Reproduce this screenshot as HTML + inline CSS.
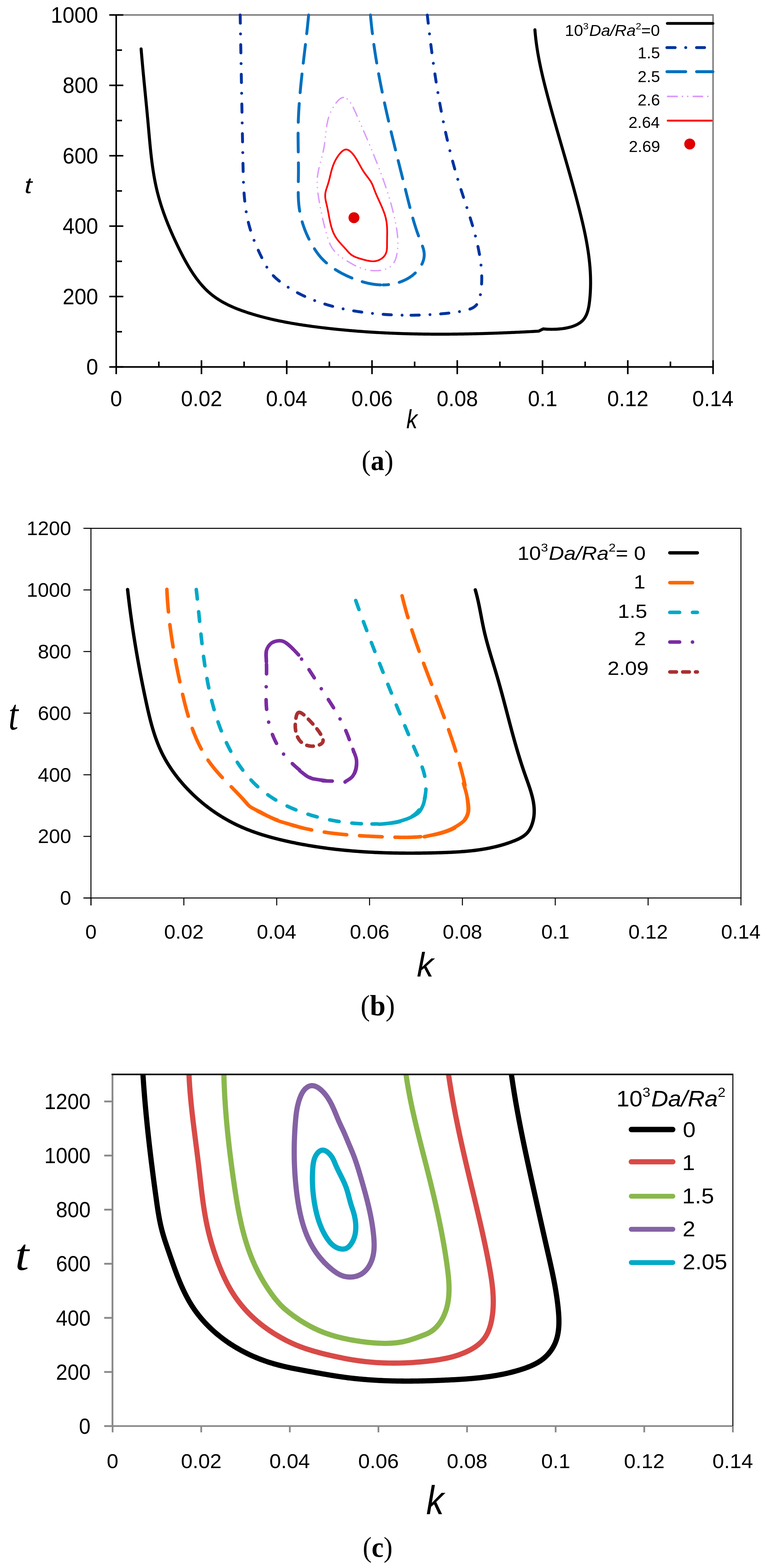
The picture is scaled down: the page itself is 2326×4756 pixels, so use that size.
<!DOCTYPE html><html><head><meta charset="utf-8"><title>Figure</title>
<style>html,body{margin:0;padding:0;background:#fff}svg{display:block}</style></head><body>
<svg width="2326" height="4756" viewBox="0 0 2326 4756">
<rect width="2326" height="4756" fill="#fff"/>
<line x1="374" y1="45.3" x2="2162.4" y2="45.3" stroke="#808080" stroke-width="4.7" stroke-linecap="butt"/>
<line x1="2162.4" y1="43" x2="2162.4" y2="1113" stroke="#808080" stroke-width="4.7" stroke-linecap="butt"/>
<line x1="352.4" y1="45.3" x2="352.4" y2="1113" stroke="#000" stroke-width="4.8" stroke-linecap="butt"/>
<line x1="352.4" y1="1113" x2="2164.7" y2="1113" stroke="#000" stroke-width="4.8" stroke-linecap="butt"/>
<line x1="331.4" y1="1113" x2="374" y2="1113" stroke="#000" stroke-width="4.8" stroke-linecap="butt"/>
<line x1="331.4" y1="899.46" x2="374" y2="899.46" stroke="#000" stroke-width="4.8" stroke-linecap="butt"/>
<line x1="331.4" y1="685.92" x2="374" y2="685.92" stroke="#000" stroke-width="4.8" stroke-linecap="butt"/>
<line x1="331.4" y1="472.38" x2="374" y2="472.38" stroke="#000" stroke-width="4.8" stroke-linecap="butt"/>
<line x1="331.4" y1="258.84" x2="374" y2="258.84" stroke="#000" stroke-width="4.8" stroke-linecap="butt"/>
<line x1="331.4" y1="45.3" x2="374" y2="45.3" stroke="#000" stroke-width="4.8" stroke-linecap="butt"/>
<line x1="352.4" y1="1006.23" x2="370" y2="1006.23" stroke="#000" stroke-width="4.8" stroke-linecap="butt"/>
<line x1="352.4" y1="792.69" x2="370" y2="792.69" stroke="#000" stroke-width="4.8" stroke-linecap="butt"/>
<line x1="352.4" y1="579.15" x2="370" y2="579.15" stroke="#000" stroke-width="4.8" stroke-linecap="butt"/>
<line x1="352.4" y1="365.61" x2="370" y2="365.61" stroke="#000" stroke-width="4.8" stroke-linecap="butt"/>
<line x1="352.4" y1="152.07" x2="370" y2="152.07" stroke="#000" stroke-width="4.8" stroke-linecap="butt"/>
<line x1="352.4" y1="1092.6" x2="352.4" y2="1134.8" stroke="#000" stroke-width="4.8" stroke-linecap="butt"/>
<line x1="610.97" y1="1092.6" x2="610.97" y2="1134.8" stroke="#000" stroke-width="4.8" stroke-linecap="butt"/>
<line x1="869.54" y1="1092.6" x2="869.54" y2="1134.8" stroke="#000" stroke-width="4.8" stroke-linecap="butt"/>
<line x1="1128.11" y1="1092.6" x2="1128.11" y2="1134.8" stroke="#000" stroke-width="4.8" stroke-linecap="butt"/>
<line x1="1386.68" y1="1092.6" x2="1386.68" y2="1134.8" stroke="#000" stroke-width="4.8" stroke-linecap="butt"/>
<line x1="1645.25" y1="1092.6" x2="1645.25" y2="1134.8" stroke="#000" stroke-width="4.8" stroke-linecap="butt"/>
<line x1="1903.82" y1="1092.6" x2="1903.82" y2="1134.8" stroke="#000" stroke-width="4.8" stroke-linecap="butt"/>
<line x1="2162.39" y1="1092.6" x2="2162.39" y2="1134.8" stroke="#000" stroke-width="4.8" stroke-linecap="butt"/>
<line x1="481.68" y1="1096.7" x2="481.68" y2="1113" stroke="#000" stroke-width="4.8" stroke-linecap="butt"/>
<line x1="740.25" y1="1096.7" x2="740.25" y2="1113" stroke="#000" stroke-width="4.8" stroke-linecap="butt"/>
<line x1="998.82" y1="1096.7" x2="998.82" y2="1113" stroke="#000" stroke-width="4.8" stroke-linecap="butt"/>
<line x1="1257.39" y1="1096.7" x2="1257.39" y2="1113" stroke="#000" stroke-width="4.8" stroke-linecap="butt"/>
<line x1="1515.97" y1="1096.7" x2="1515.97" y2="1113" stroke="#000" stroke-width="4.8" stroke-linecap="butt"/>
<line x1="1774.53" y1="1096.7" x2="1774.53" y2="1113" stroke="#000" stroke-width="4.8" stroke-linecap="butt"/>
<line x1="2033.11" y1="1096.7" x2="2033.11" y2="1113" stroke="#000" stroke-width="4.8" stroke-linecap="butt"/>
<path d="M427.92,148.34 428.26,152.36 428.59,156.38 428.93,160.4 429.28,164.41 429.62,168.42 429.97,172.42 430.32,176.42 430.68,180.43 431.03,184.42 431.39,188.42 431.76,192.41 432.12,196.41 432.49,200.4 432.85,204.38 433.22,208.37 433.6,212.35 433.97,216.34 434.34,220.32 434.72,224.3 435.1,228.27 435.48,232.25 435.86,236.23 436.24,240.2 436.63,244.17 437.01,248.15 437.4,252.12 437.78,256.09 438.17,260.06 438.56,264.03 438.94,268 439.33,271.97 439.72,275.94 440.11,279.9 440.5,283.87 440.89,287.84 441.27,291.81 441.66,295.78 442.05,299.75 442.44,303.71 442.83,307.68 443.21,311.65 443.6,315.63 443.98,319.6 444.37,323.57 444.75,327.54 445.13,331.52 445.51,335.49 445.89,339.47 446.27,343.45 446.65,347.43 447.02,351.41 447.39,355.39 447.77,359.37 448.14,363.36 448.5,367.34 448.87,371.33 449.23,375.33 449.59,379.32 449.95,383.31 450.31,387.31 450.66,391.31 451.02,395.31 451.37,399.32 451.73,403.32 452.08,407.32 452.44,411.33 452.8,415.34 453.16,419.34 453.52,423.35 453.89,427.36 454.27,431.37 454.64,435.37 455.03,439.38 455.41,443.39 455.81,447.39 456.21,451.4 456.62,455.4 457.04,459.4 457.46,463.4 457.9,467.4 458.34,471.4 458.8,475.39 459.27,479.38 459.74,483.37 460.23,487.36 460.74,491.34 461.25,495.32 461.78,499.3 462.32,503.27 462.88,507.24 463.46,511.21 464.04,515.17 464.65,519.13 465.27,523.08 465.91,527.03 466.57,530.98 467.25,534.91 467.94,538.85 468.66,542.78 469.4,546.7 470.15,550.62 470.93,554.53 471.73,558.43 472.56,562.33 473.4,566.22 474.27,570.11 475.17,573.99 476.09,577.86 477.03,581.72 478,585.58 478.99,589.43 480.01,593.27 481.05,597.11 482.12,600.94 483.2,604.76 484.31,608.58 485.45,612.39 486.6,616.19 487.78,619.99 488.98,623.78 490.2,627.56 491.45,631.34 492.71,635.11 493.99,638.88 495.3,642.64 496.62,646.4 497.97,650.15 499.33,653.89 500.71,657.63 502.11,661.37 503.53,665.09 504.97,668.82 506.43,672.54 507.9,676.25 509.39,679.96 510.9,683.66 512.43,687.36 513.97,691.06 515.53,694.75 517.1,698.43 518.69,702.12 520.29,705.79 521.91,709.47 523.55,713.14 525.2,716.8 526.86,720.47 528.54,724.12 530.23,727.78 531.93,731.43 533.65,735.08 535.38,738.72 537.12,742.36 538.87,746 540.64,749.64 542.41,753.27 544.2,756.9 546.01,760.52 547.82,764.14 549.65,767.75 551.5,771.35 553.36,774.95 555.23,778.53 557.13,782.11 559.04,785.67 560.98,789.23 562.93,792.77 564.9,796.29 566.9,799.8 568.91,803.3 570.95,806.78 573.01,810.24 575.1,813.68 577.21,817.1 579.35,820.51 581.51,823.89 583.71,827.25 585.93,830.58 588.17,833.9 590.45,837.18 592.76,840.45 595.1,843.68 597.48,846.88 599.88,850.05 602.33,853.19 604.8,856.29 607.32,859.36 609.87,862.39 612.46,865.38 615.09,868.32 617.76,871.23 620.47,874.09 623.22,876.9 626.02,879.66 628.86,882.38 631.74,885.04 634.67,887.65 637.65,890.21 640.68,892.71 643.74,895.16 646.86,897.55 650.01,899.9 653.21,902.19 656.45,904.43 659.72,906.62 663.03,908.77 666.38,910.87 669.77,912.92 673.19,914.92 676.64,916.88 680.12,918.79 683.64,920.66 687.18,922.49 690.75,924.27 694.35,926.02 697.97,927.72 701.62,929.38 705.29,931.01 708.98,932.6 712.69,934.15 716.42,935.67 720.17,937.16 723.93,938.62 727.7,940.04 731.49,941.44 735.3,942.81 739.11,944.15 742.93,945.46 746.76,946.75 750.59,948.02 754.43,949.27 758.28,950.49 762.12,951.7 765.97,952.88 769.83,954.04 773.69,955.19 777.55,956.31 781.41,957.42 785.28,958.5 789.16,959.57 793.03,960.62 796.91,961.65 800.79,962.66 804.68,963.65 808.56,964.63 812.45,965.59 816.35,966.53 820.24,967.46 824.14,968.37 828.05,969.26 831.95,970.14 835.86,971 839.77,971.85 843.68,972.68 847.6,973.5 851.52,974.3 855.44,975.09 859.36,975.86 863.28,976.62 867.21,977.37 871.14,978.11 875.07,978.83 879,979.54 882.94,980.23 886.88,980.92 890.82,981.59 894.76,982.25 898.7,982.91 902.65,983.54 906.59,984.17 910.54,984.79 914.49,985.4 918.44,986 922.39,986.59 926.35,987.17 930.3,987.74 934.26,988.3 938.22,988.85 942.18,989.4 946.14,989.94 950.1,990.47 954.06,990.99 958.02,991.5 961.99,992.01 965.95,992.51 969.92,993.01 973.89,993.5 977.85,993.98 981.82,994.45 985.79,994.92 989.76,995.38 993.73,995.84 997.71,996.28 1001.68,996.73 1005.65,997.16 1009.63,997.59 1013.6,998.01 1017.58,998.43 1021.56,998.84 1025.53,999.24 1029.51,999.64 1033.49,1000.03 1037.47,1000.41 1041.45,1000.79 1045.43,1001.16 1049.41,1001.53 1053.4,1001.89 1057.38,1002.24 1061.36,1002.59 1065.35,1002.93 1069.33,1003.27 1073.32,1003.6 1077.31,1003.92 1081.29,1004.24 1085.28,1004.55 1089.27,1004.86 1093.26,1005.16 1097.25,1005.45 1101.24,1005.74 1105.23,1006.02 1109.22,1006.3 1113.21,1006.57 1117.2,1006.84 1121.2,1007.1 1125.19,1007.35 1129.18,1007.6 1133.18,1007.85 1137.17,1008.09 1141.17,1008.32 1145.16,1008.55 1149.16,1008.77 1153.16,1008.98 1157.15,1009.19 1161.15,1009.4 1165.15,1009.6 1169.15,1009.8 1173.15,1009.99 1177.14,1010.17 1181.14,1010.35 1185.14,1010.52 1189.14,1010.69 1193.14,1010.86 1197.15,1011.02 1201.15,1011.17 1205.15,1011.32 1209.15,1011.46 1213.15,1011.6 1217.16,1011.74 1221.16,1011.87 1225.16,1011.99 1229.16,1012.11 1233.17,1012.22 1237.17,1012.33 1241.18,1012.44 1245.18,1012.54 1249.19,1012.64 1253.19,1012.73 1257.19,1012.81 1261.2,1012.9 1265.21,1012.97 1269.21,1013.05 1273.22,1013.11 1277.22,1013.18 1281.23,1013.24 1285.23,1013.29 1289.24,1013.34 1293.25,1013.39 1297.25,1013.43 1301.26,1013.47 1305.27,1013.5 1309.27,1013.53 1313.28,1013.56 1317.29,1013.58 1321.29,1013.59 1325.3,1013.61 1329.31,1013.61 1333.32,1013.62 1337.32,1013.62 1341.33,1013.62 1345.34,1013.61 1349.34,1013.6 1353.35,1013.58 1357.36,1013.56 1361.36,1013.54 1365.37,1013.51 1369.38,1013.48 1373.39,1013.45 1377.39,1013.41 1381.4,1013.37 1385.41,1013.32 1389.41,1013.27 1393.42,1013.22 1397.42,1013.16 1401.43,1013.1 1405.44,1013.04 1409.44,1012.97 1413.45,1012.9 1417.45,1012.82 1421.46,1012.75 1425.46,1012.66 1429.47,1012.58 1433.47,1012.49 1437.48,1012.4 1441.48,1012.31 1445.48,1012.21 1449.49,1012.11 1453.49,1012.01 1457.49,1011.9 1461.5,1011.79 1465.5,1011.67 1469.5,1011.56 1473.5,1011.44 1477.5,1011.32 1481.5,1011.19 1485.51,1011.06 1489.51,1010.93 1493.51,1010.8 1497.51,1010.66 1501.51,1010.52 1505.5,1010.38 1509.5,1010.23 1513.5,1010.08 1517.5,1009.93 1521.5,1009.78 1525.49,1009.62 1529.49,1009.47 1533.49,1009.3 1537.48,1009.14 1541.48,1008.97 1545.47,1008.8 1549.46,1008.63 1553.46,1008.46 1557.45,1008.28 1561.44,1008.1 1565.44,1007.92 1569.43,1007.74 1573.42,1007.55 1577.41,1007.37 1581.4,1007.18 1585.39,1006.98 1589.38,1006.79 1593.36,1006.59 1597.35,1006.39 1601.34,1006.19 1605.32,1005.99 1609.31,1005.78 1613.29,1005.58 1617.28,1005.37 1621.26,1005.16 1625.25,1004.95 1629.23,1004.73 1633.21,1004.51 L1647.15,997.64 1650.33,997.91 1653.67,998.15 1657.17,998.36 1660.8,998.53 1664.57,998.67 1668.44,998.75 1672.43,998.79 1676.5,998.77 1680.65,998.69 1684.87,998.55 1689.14,998.34 1693.45,998.05 1697.79,997.69 1702.14,997.24 1706.5,996.71 1710.85,996.08 1715.18,995.36 1719.47,994.54 1723.72,993.61 1727.91,992.57 1732.03,991.42 1736.06,990.14 1740,988.75 1743.82,987.22 1747.53,985.56 1751.1,983.76 1754.53,981.82 1757.8,979.74 1760.89,977.5 1763.81,975.1 1766.52,972.55 1769.03,969.82 1771.33,966.94 1773.44,963.91 1775.35,960.73 1777.09,957.42 1778.67,954 1780.09,950.46 1781.36,946.82 1782.51,943.09 1783.53,939.28 1784.43,935.41 1785.24,931.47 1785.96,927.49 1786.59,923.46 1787.16,919.41 1787.67,915.35 1788.13,911.27 1788.56,907.2 1788.95,903.13 1789.3,899.06 1789.62,895 1789.9,890.94 1790.15,886.88 1790.37,882.83 1790.56,878.78 1790.71,874.74 1790.83,870.7 1790.92,866.66 1790.98,862.63 1791.01,858.6 1791,854.58 1790.97,850.56 1790.91,846.54 1790.82,842.52 1790.7,838.51 1790.56,834.5 1790.38,830.49 1790.18,826.49 1789.96,822.49 1789.7,818.5 1789.42,814.51 1789.12,810.52 1788.79,806.53 1788.44,802.55 1788.06,798.57 1787.66,794.59 1787.23,790.62 1786.79,786.64 1786.32,782.68 1785.83,778.71 1785.32,774.75 1784.78,770.79 1784.23,766.83 1783.66,762.88 1783.06,758.93 1782.45,754.98 1781.82,751.03 1781.17,747.09 1780.51,743.15 1779.82,739.21 1779.12,735.27 1778.4,731.34 1777.67,727.41 1776.92,723.48 1776.16,719.55 1775.38,715.63 1774.58,711.7 1773.78,707.78 1772.96,703.87 1772.12,699.95 1771.28,696.04 1770.42,692.13 1769.55,688.22 1768.67,684.31 1767.78,680.41 1766.88,676.5 1765.96,672.6 1765.04,668.7 1764.11,664.81 1763.17,660.91 1762.23,657.02 1761.27,653.13 1760.31,649.24 1759.34,645.35 1758.37,641.46 1757.39,637.58 1756.4,633.69 1755.41,629.81 1754.41,625.93 1753.41,622.05 1752.4,618.17 1751.39,614.3 1750.38,610.42 1749.36,606.55 1748.33,602.68 1747.3,598.81 1746.27,594.94 1745.23,591.07 1744.19,587.2 1743.15,583.34 1742.1,579.47 1741.04,575.61 1739.99,571.75 1738.93,567.89 1737.86,564.03 1736.8,560.17 1735.73,556.31 1734.66,552.45 1733.58,548.6 1732.5,544.74 1731.42,540.89 1730.34,537.03 1729.25,533.18 1728.16,529.33 1727.07,525.48 1725.98,521.63 1724.88,517.78 1723.79,513.93 1722.69,510.08 1721.59,506.23 1720.48,502.38 1719.38,498.53 1718.27,494.69 1717.17,490.84 1716.06,486.99 1714.95,483.15 1713.84,479.3 1712.73,475.46 1711.62,471.61 1710.51,467.77 1709.39,463.92 1708.28,460.08 1707.17,456.24 1706.05,452.39 1704.94,448.55 1703.82,444.7 1702.71,440.86 1701.6,437.02 1700.48,433.17 1699.37,429.33 1698.26,425.49 1697.14,421.64 1696.03,417.8 1694.92,413.95 1693.81,410.11 1692.7,406.26 1691.6,402.42 1690.49,398.57 1689.38,394.73 1688.28,390.88 1687.18,387.03 1686.08,383.19 1684.98,379.34 1683.88,375.49 1682.79,371.64 1681.7,367.79 1680.61,363.94 1679.52,360.09 1678.43,356.24 1677.35,352.39 1676.27,348.54 1675.19,344.68 1674.12,340.83 1673.05,336.97 1671.98,333.12 1670.91,329.26 1669.85,325.4 1668.79,321.54 1667.74,317.68 1666.69,313.82 1665.64,309.96 1664.6,306.1 1663.56,302.23 1662.52,298.37 1661.49,294.5 1660.46,290.64 1659.44,286.77 1658.42,282.9 1657.41,279.03 1656.4,275.15 1655.39,271.28 1654.4,267.4 1653.41,263.53 1652.43,259.65 1651.45,255.77 1650.48,251.88 1649.52,248 1648.57,244.11 1647.63,240.22 1646.69,236.33 1645.77,232.44 1644.86,228.55 1643.95,224.65 1643.06,220.75 1642.18,216.85 1641.31,212.94 1640.45,209.04 1639.61,205.13 1638.77,201.22 1637.95,197.3 1637.15,193.39 1636.36,189.47 1635.58,185.54 1634.81,181.62 1634.07,177.69 1633.33,173.75 1632.62,169.82 1631.92,165.88 1631.23,161.94 1630.56,157.99 1629.91,154.05 1629.28,150.09 1628.67,146.14 1628.07,142.18 1627.5,138.22 1626.94,134.25 1626.4,130.28 1625.89,126.3 1625.39,122.33 1624.91,118.34 1624.46,114.36 1624.03,110.37 1623.62,106.37 1623.23,102.37 1622.86,98.37 1622.52,94.36 1622.2,90.35" fill="none" stroke="#000" stroke-width="9.2" stroke-linecap="round" stroke-linejoin="round"/>
<path d="M728.32,45.37 728.39,49.38 728.47,53.4 728.55,57.41 728.63,61.43 728.7,65.44 728.78,69.45 728.86,73.47 728.94,77.48 729.01,81.49 729.09,85.51 729.17,89.52 729.24,93.53 729.32,97.54 729.4,101.56 729.47,105.57 729.55,109.58 729.62,113.59 729.7,117.6 729.78,121.61 729.85,125.62 729.93,129.63 730,133.64 730.08,137.65 730.15,141.66 730.23,145.67 730.3,149.67 730.38,153.68 730.45,157.69 730.53,161.7 730.6,165.71 730.68,169.71 730.75,173.72 730.83,177.73 730.9,181.74 730.98,185.74 731.05,189.75 731.13,193.76 731.2,197.77 731.28,201.77 731.35,205.78 731.43,209.79 731.5,213.79 731.58,217.8 731.65,221.81 731.72,225.81 731.8,229.82 731.87,233.82 731.95,237.83 732.02,241.84 732.1,245.84 732.17,249.85 732.24,253.85 732.32,257.86 732.39,261.87 732.47,265.87 732.54,269.88 732.62,273.89 732.69,277.89 732.77,281.9 732.84,285.9 732.91,289.91 732.99,293.92 733.06,297.92 733.14,301.93 733.21,305.94 733.29,309.94 733.36,313.95 733.44,317.96 733.51,321.96 733.59,325.97 733.66,329.98 733.74,333.99 733.81,337.99 733.89,342 733.96,346.01 734.04,350.02 734.11,354.02 734.19,358.03 734.26,362.04 734.34,366.05 734.41,370.06 734.49,374.07 734.57,378.08 734.64,382.09 734.72,386.1 734.79,390.11 734.87,394.12 734.95,398.13 735.02,402.14 735.1,406.15 735.18,410.16 735.25,414.17 735.33,418.18 735.41,422.19 735.49,426.21 735.56,430.22 735.64,434.23 735.72,438.24 735.8,442.26 735.87,446.27 735.95,450.29 736.03,454.3 736.11,458.31 736.19,462.33 736.26,466.34 736.34,470.36 736.42,474.38 736.5,478.39 736.58,482.41 736.66,486.43 736.74,490.45 736.82,494.46 736.9,498.48 736.98,502.5 737.06,506.52 737.14,510.54 737.23,514.56 737.32,518.58 737.41,522.6 737.51,526.62 737.61,530.63 737.72,534.65 737.84,538.67 737.97,542.68 738.11,546.7 738.25,550.71 738.41,554.72 738.58,558.73 738.77,562.74 738.97,566.74 739.18,570.74 739.41,574.74 739.66,578.74 739.92,582.74 740.2,586.73 740.5,590.72 740.82,594.7 741.17,598.69 741.53,602.66 741.92,606.64 742.33,610.61 742.77,614.58 743.23,618.54 743.72,622.5 744.24,626.46 744.78,630.41 745.36,634.35 745.96,638.29 746.6,642.22 747.26,646.15 747.96,650.08 748.7,654 749.46,657.91 750.27,661.82 751.11,665.72 751.98,669.61 752.9,673.5 753.85,677.38 754.85,681.25 755.88,685.12 756.96,688.98 758.07,692.84 759.23,696.68 760.42,700.52 761.66,704.35 762.93,708.17 764.23,711.98 765.57,715.78 766.94,719.58 768.34,723.36 769.78,727.14 771.25,730.9 772.74,734.65 774.26,738.4 775.81,742.13 777.39,745.85 778.99,749.55 780.62,753.25 782.27,756.93 783.94,760.61 785.63,764.26 787.34,767.91 789.07,771.54 790.82,775.16 792.59,778.76 794.37,782.35 796.17,785.93 797.98,789.49 799.8,793.03 801.63,796.56 803.49,800.07 805.37,803.56 807.29,807.01 809.27,810.42 811.31,813.79 813.42,817.1 815.63,820.36 817.93,823.55 820.34,826.67 822.85,829.72 825.47,832.7 828.18,835.61 830.99,838.45 833.87,841.24 836.84,843.96 839.87,846.63 842.96,849.24 846.12,851.79 849.32,854.3 852.57,856.76 855.86,859.17 859.18,861.54 862.52,863.87 865.89,866.15 869.27,868.4 872.67,870.62 876.09,872.79 879.52,874.93 882.97,877.03 886.43,879.09 889.91,881.12 893.41,883.12 896.92,885.07 900.45,887 903.99,888.88 907.55,890.74 911.12,892.56 914.71,894.34 918.31,896.09 921.92,897.81 925.54,899.5 929.18,901.15 932.84,902.77 936.5,904.36 940.18,905.92 943.87,907.45 947.57,908.95 951.28,910.41 955.01,911.85 958.74,913.25 962.49,914.63 966.24,915.98 970.01,917.3 973.79,918.59 977.58,919.85 981.37,921.08 985.18,922.29 989,923.47 992.82,924.62 996.65,925.75 1000.5,926.85 1004.34,927.93 1008.2,928.97 1012.07,930 1015.94,931 1019.82,931.97 1023.71,932.92 1027.6,933.85 1031.5,934.75 1035.41,935.63 1039.32,936.49 1043.24,937.33 1047.16,938.14 1051.09,938.93 1055.02,939.7 1058.96,940.45 1062.91,941.17 1066.85,941.88 1070.8,942.57 1074.76,943.23 1078.72,943.88 1082.68,944.51 1086.64,945.12 1090.61,945.71 1094.58,946.28 1098.55,946.83 1102.53,947.37 1106.5,947.89 1110.48,948.39 1114.46,948.88 1118.44,949.35 1122.42,949.8 1126.4,950.24 1130.38,950.66 1134.36,951.07 1138.35,951.46 1142.33,951.83 1146.32,952.19 1150.31,952.53 1154.3,952.86 1158.29,953.17 1162.28,953.46 1166.27,953.74 1170.26,954.01 1174.25,954.25 1178.25,954.49 1182.24,954.71 1186.24,954.91 1190.23,955.09 1194.23,955.27 1198.23,955.42 1202.23,955.56 1206.23,955.69 1210.23,955.8 1214.23,955.9 1218.23,955.98 1222.24,956.05 1226.24,956.1 1230.25,956.14 1234.25,956.16 1238.26,956.17" fill="none" stroke="#0033A0" stroke-width="8.8" stroke-linecap="round" stroke-linejoin="round" stroke-dasharray="25 32.5 0.01 32.5"/><path d="M1295.87,45.63 1296.32,49.59 1296.77,53.56 1297.21,57.52 1297.67,61.49 1298.12,65.46 1298.58,69.42 1299.03,73.39 1299.5,77.36 1299.96,81.33 1300.43,85.3 1300.9,89.27 1301.37,93.24 1301.84,97.21 1302.32,101.18 1302.8,105.15 1303.29,109.12 1303.77,113.09 1304.26,117.06 1304.76,121.03 1305.26,125 1305.76,128.98 1306.26,132.95 1306.77,136.92 1307.28,140.89 1307.79,144.86 1308.31,148.84 1308.83,152.81 1309.35,156.78 1309.88,160.75 1310.42,164.72 1310.95,168.7 1311.49,172.67 1312.04,176.64 1312.58,180.61 1313.14,184.58 1313.69,188.55 1314.25,192.52 1314.82,196.49 1315.39,200.46 1315.96,204.43 1316.54,208.4 1317.12,212.37 1317.71,216.34 1318.3,220.31 1318.9,224.27 1319.5,228.24 1320.1,232.21 1320.71,236.17 1321.33,240.14 1321.95,244.1 1322.57,248.07 1323.2,252.03 1323.84,255.99 1324.48,259.95 1325.12,263.91 1325.78,267.87 1326.43,271.83 1327.09,275.79 1327.76,279.75 1328.43,283.7 1329.11,287.66 1329.79,291.61 1330.48,295.57 1331.18,299.52 1331.88,303.47 1332.58,307.42 1333.29,311.37 1334.01,315.32 1334.74,319.27 1335.46,323.22 1336.2,327.16 1336.94,331.1 1337.69,335.05 1338.44,338.99 1339.21,342.93 1339.97,346.87 1340.75,350.8 1341.52,354.74 1342.31,358.68 1343.1,362.61 1343.9,366.54 1344.71,370.47 1345.52,374.4 1346.34,378.33 1347.17,382.25 1348,386.18 1348.84,390.1 1349.69,394.02 1350.54,397.94 1351.4,401.86 1352.27,405.77 1353.15,409.69 1354.03,413.6 1354.92,417.51 1355.82,421.42 1356.72,425.33 1357.63,429.23 1358.55,433.13 1359.48,437.03 1360.42,440.93 1361.36,444.83 1362.31,448.73 1363.27,452.62 1364.23,456.51 1365.21,460.4 1366.19,464.29 1367.18,468.17 1368.18,472.05 1369.19,475.94 1370.2,479.81 1371.22,483.69 1372.25,487.56 1373.29,491.43 1374.34,495.3 1375.4,499.17 1376.46,503.04 1377.54,506.9 1378.62,510.76 1379.71,514.61 1380.81,518.47 1381.92,522.32 1383.03,526.17 1384.16,530.02 1385.3,533.86 1386.44,537.7 1387.59,541.54 1388.75,545.38 1389.93,549.21 1391.11,553.05 1392.3,556.87 1393.49,560.7 1394.7,564.52 1395.91,568.35 1397.13,572.17 1398.36,575.98 1399.59,579.8 1400.83,583.61 1402.07,587.43 1403.31,591.24 1404.56,595.05 1405.8,598.86 1407.05,602.67 1408.31,606.48 1409.56,610.29 1410.81,614.09 1412.06,617.9 1413.31,621.71 1414.55,625.52 1415.8,629.33 1417.04,633.14 1418.27,636.95 1419.5,640.76 1420.73,644.57 1421.95,648.39 1423.17,652.2 1424.37,656.02 1425.57,659.84 1426.76,663.66 1427.94,667.48 1429.11,671.3 1430.28,675.13 1431.43,678.96 1432.57,682.79 1433.69,686.63 1434.81,690.47 1435.91,694.31 1436.99,698.16 1438.07,702.01 1439.12,705.86 1440.16,709.72 1441.19,713.58 1442.19,717.44 1443.18,721.31 1444.15,725.19 1445.11,729.07 1446.04,732.95 1446.95,736.84 1447.84,740.73 1448.71,744.63 1449.56,748.54 1450.38,752.45 1451.18,756.37 1451.96,760.29 1452.71,764.22 1453.44,768.15 1454.14,772.1 1454.81,776.05 1455.46,780 1456.08,783.96 1456.66,787.93 1457.22,791.9 1457.74,795.88 1458.23,799.87 1458.68,803.86 1459.09,807.86 1459.47,811.86 1459.81,815.86 1460.11,819.87 1460.36,823.89 1460.57,827.91 1460.74,831.93 1460.86,835.96 1460.94,839.99 1460.96,844.02 1460.94,848.06 1460.87,852.1 1460.74,856.14 1460.56,860.19 1460.33,864.24 1460.04,868.29 1459.69,872.34 1459.28,876.4 1458.82,880.46 1458.29,884.51 1457.71,888.57 1457.05,892.64 1456.33,896.69 1455.51,900.71 1454.57,904.67 1453.47,908.51 1452.19,912.23 1450.69,915.76 1448.95,919.1 1446.95,922.2 1444.69,925.07 1442.17,927.69 1439.39,930.05 1436.37,932.15 1433.12,934.01 1429.67,935.66 1426.06,937.12 1422.33,938.41 1418.5,939.58 1414.6,940.64 1410.67,941.62 1406.73,942.54 1402.78,943.4 1398.82,944.21 1394.84,944.97 1390.86,945.67 1386.87,946.33 1382.87,946.95 1378.87,947.53 1374.86,948.08 1370.85,948.59 1366.83,949.07 1362.81,949.52 1358.79,949.95 1354.76,950.35 1350.74,950.75 1346.71,951.12 1342.68,951.48 1338.66,951.83 1334.64,952.17 1330.61,952.49 1326.59,952.8 1322.57,953.1 1318.55,953.38 1314.53,953.65 1310.51,953.91 1306.49,954.15 1302.47,954.38 1298.45,954.6 1294.43,954.8 1290.41,954.99 1286.4,955.16 1282.38,955.33 1278.37,955.47 1274.35,955.61 1270.34,955.73 1266.33,955.83 1262.32,955.92 1258.3,956 1254.29,956.06 1250.28,956.11 1246.28,956.15 1242.27,956.17 1238.26,956.17" fill="none" stroke="#0033A0" stroke-width="8.8" stroke-linecap="round" stroke-linejoin="round" stroke-dasharray="25 32.5 0.01 32.5"/>
<path d="M935.91,45.49 935.54,49.46 935.17,53.43 934.78,57.4 934.4,61.37 934,65.34 933.6,69.32 933.19,73.29 932.78,77.26 932.36,81.24 931.94,85.21 931.51,89.19 931.07,93.16 930.64,97.14 930.2,101.11 929.75,105.09 929.3,109.07 928.85,113.04 928.39,117.02 927.93,121 927.47,124.98 927.01,128.95 926.54,132.93 926.08,136.91 925.61,140.89 925.14,144.87 924.67,148.85 924.2,152.83 923.72,156.82 923.25,160.8 922.78,164.78 922.31,168.76 921.83,172.74 921.36,176.73 920.89,180.71 920.42,184.69 919.96,188.68 919.49,192.66 919.03,196.65 918.56,200.63 918.1,204.62 917.65,208.6 917.2,212.59 916.75,216.57 916.3,220.56 915.86,224.54 915.42,228.53 914.98,232.52 914.55,236.51 914.13,240.49 913.71,244.48 913.3,248.47 912.89,252.46 912.48,256.45 912.09,260.44 911.7,264.42 911.31,268.41 910.94,272.4 910.57,276.39 910.2,280.38 909.85,284.37 909.5,288.36 909.16,292.36 908.83,296.35 908.51,300.34 908.2,304.33 907.9,308.32 907.6,312.31 907.32,316.3 907.04,320.3 906.78,324.29 906.52,328.28 906.28,332.27 906.05,336.27 905.83,340.26 905.62,344.25 905.42,348.25 905.23,352.24 905.06,356.23 904.9,360.23 904.75,364.22 904.62,368.22 904.49,372.21 904.39,376.2 904.29,380.2 904.21,384.19 904.14,388.19 904.09,392.18 904.05,396.18 904.02,400.17 904,404.17 904,408.17 904,412.16 904.01,416.16 904.03,420.16 904.06,424.16 904.09,428.15 904.13,432.15 904.18,436.15 904.23,440.15 904.29,444.15 904.34,448.16 904.4,452.16 904.46,456.16 904.53,460.17 904.59,464.17 904.65,468.18 904.71,472.19 904.77,476.2 904.83,480.21 904.88,484.22 904.93,488.23 904.97,492.24 905.01,496.26 905.04,500.27 905.07,504.29 905.09,508.31 905.09,512.33 905.09,516.35 905.08,520.37 905.06,524.4 905.03,528.42 904.98,532.45 904.93,536.48 904.86,540.51 904.79,544.54 904.72,548.57 904.65,552.6 904.58,556.63 904.52,560.66 904.47,564.69 904.42,568.72 904.4,572.74 904.39,576.76 904.4,580.78 904.43,584.79 904.49,588.8 904.57,592.81 904.69,596.81 904.84,600.8 905.03,604.79 905.26,608.78 905.53,612.75 905.85,616.72 906.21,620.69 906.63,624.64 907.1,628.59 907.62,632.53 908.2,636.46 908.84,640.38 909.54,644.29 910.29,648.19 911.09,652.08 911.95,655.96 912.87,659.83 913.84,663.69 914.86,667.54 915.93,671.37 917.06,675.2 918.24,679.01 919.47,682.81 920.75,686.59 922.09,690.37 923.47,694.13 924.9,697.88 926.39,701.61 927.92,705.33 929.5,709.03 931.12,712.72 932.8,716.39 934.52,720.05 936.29,723.68 938.1,727.3 939.95,730.89 941.85,734.46 943.79,738 945.77,741.52 947.79,745.02 949.85,748.48 951.94,751.91 954.08,755.31 956.26,758.68 958.48,762 960.75,765.28 963.09,768.5 965.48,771.67 967.94,774.76 970.47,777.8 973.06,780.77 975.71,783.69 978.42,786.54 981.19,789.33 984.01,792.06 986.89,794.74 989.83,797.36 992.82,799.92 995.86,802.43 998.94,804.88 1002.08,807.28 1005.26,809.62 1008.49,811.92 1011.76,814.16 1015.06,816.35 1018.41,818.5 1021.8,820.59 1025.22,822.64 1028.68,824.64 1032.18,826.6 1035.7,828.51 1039.25,830.38 1042.84,832.2 1046.44,833.98 1050.08,835.72 1053.74,837.43 1057.42,839.09 1061.12,840.71 1064.84,842.29 1068.58,843.84 1072.33,845.35 1076.11,846.81 1079.89,848.23 1083.7,849.61 1087.51,850.93 1091.34,852.21 1095.19,853.43 1099.04,854.6 1102.91,855.72 1106.79,856.77 1110.68,857.76 1114.57,858.69 1118.48,859.56 1122.4,860.36 1126.32,861.09 1130.25,861.75 1134.19,862.33 1138.13,862.84 1142.07,863.27 1146.02,863.63 1149.98,863.9 1153.93,864.09 1157.89,864.19 1161.85,864.21" fill="none" stroke="#0070C0" stroke-width="8.8" stroke-linecap="round" stroke-linejoin="round" stroke-dasharray="57 33"/><path d="M1123.44,45.37 1123.79,49.37 1124.16,53.36 1124.54,57.35 1124.92,61.34 1125.32,65.33 1125.73,69.31 1126.14,73.3 1126.57,77.28 1127,81.27 1127.44,85.25 1127.9,89.23 1128.36,93.21 1128.83,97.18 1129.31,101.16 1129.8,105.13 1130.3,109.11 1130.81,113.08 1131.33,117.05 1131.85,121.02 1132.38,124.99 1132.93,128.95 1133.48,132.92 1134.04,136.88 1134.6,140.84 1135.18,144.81 1135.76,148.77 1136.35,152.73 1136.95,156.68 1137.56,160.64 1138.17,164.6 1138.8,168.55 1139.43,172.5 1140.06,176.46 1140.71,180.41 1141.36,184.36 1142.02,188.3 1142.69,192.25 1143.36,196.2 1144.04,200.14 1144.73,204.09 1145.42,208.03 1146.13,211.97 1146.83,215.91 1147.55,219.85 1148.27,223.79 1149,227.73 1149.73,231.66 1150.47,235.6 1151.22,239.53 1151.97,243.46 1152.73,247.4 1153.49,251.33 1154.26,255.26 1155.04,259.19 1155.82,263.11 1156.61,267.04 1157.4,270.97 1158.2,274.89 1159.01,278.82 1159.82,282.74 1160.63,286.66 1161.45,290.58 1162.27,294.5 1163.1,298.42 1163.94,302.34 1164.78,306.26 1165.62,310.17 1166.47,314.09 1167.32,318.01 1168.18,321.92 1169.04,325.83 1169.91,329.74 1170.78,333.66 1171.65,337.57 1172.53,341.48 1173.41,345.38 1174.3,349.29 1175.19,353.2 1176.08,357.11 1176.98,361.01 1177.88,364.92 1178.79,368.82 1179.69,372.72 1180.6,376.63 1181.52,380.53 1182.44,384.43 1183.36,388.33 1184.28,392.23 1185.21,396.13 1186.14,400.02 1187.07,403.92 1188,407.82 1188.94,411.71 1189.88,415.61 1190.82,419.5 1191.76,423.4 1192.71,427.29 1193.66,431.18 1194.61,435.08 1195.56,438.97 1196.52,442.86 1197.47,446.75 1198.43,450.64 1199.39,454.53 1200.35,458.41 1201.32,462.3 1202.28,466.19 1203.25,470.08 1204.21,473.96 1205.18,477.85 1206.15,481.73 1207.12,485.62 1208.09,489.5 1209.06,493.38 1210.03,497.27 1211.01,501.15 1211.98,505.03 1212.96,508.91 1213.93,512.79 1214.9,516.67 1215.88,520.55 1216.86,524.43 1217.83,528.31 1218.81,532.19 1219.78,536.07 1220.76,539.94 1221.73,543.82 1222.71,547.7 1223.68,551.57 1224.65,555.45 1225.63,559.33 1226.6,563.2 1227.57,567.08 1228.54,570.95 1229.51,574.83 1230.48,578.7 1231.45,582.57 1232.41,586.45 1233.38,590.32 1234.34,594.19 1235.31,598.06 1236.27,601.94 1237.24,605.81 1238.2,609.68 1239.17,613.55 1240.15,617.42 1241.12,621.29 1242.11,625.16 1243.1,629.03 1244.1,632.89 1245.11,636.76 1246.13,640.63 1247.16,644.49 1248.2,648.35 1249.25,652.22 1250.32,656.08 1251.41,659.94 1252.5,663.8 1253.62,667.66 1254.75,671.52 1255.9,675.37 1257.08,679.23 1258.27,683.08 1259.48,686.94 1260.72,690.79 1261.98,694.64 1263.26,698.48 1264.57,702.33 1265.91,706.18 1267.27,710.02 1268.66,713.86 1270.08,717.7 1271.53,721.54 1273.02,725.38 1274.53,729.21 1276.06,733.04 1277.59,736.87 1279.08,740.7 1280.51,744.53 1281.84,748.35 1283.07,752.17 1284.15,755.99 1285.06,759.81 1285.78,763.62 1286.27,767.43 1286.52,771.24 1286.49,775.04 1286.2,778.83 1285.66,782.6 1284.88,786.34 1283.87,790.05 1282.64,793.72 1281.21,797.34 1279.58,800.91 1277.77,804.41 1275.79,807.84 1273.65,811.19 1271.36,814.45 1268.93,817.62 1266.37,820.69 1263.7,823.65 1260.91,826.51 1258.02,829.27 1255.02,831.92 1251.93,834.46 1248.74,836.9 1245.47,839.24 1242.12,841.47 1238.69,843.59 1235.19,845.61 1231.63,847.53 1228,849.34 1224.32,851.04 1220.58,852.65 1216.81,854.14 1212.99,855.53 1209.14,856.82 1205.26,858 1201.35,859.08 1197.43,860.05 1193.49,860.92 1189.55,861.68 1185.6,862.34 1181.64,862.89 1177.69,863.35 1173.73,863.7 1169.77,863.96 1165.81,864.13 1161.85,864.21" fill="none" stroke="#0070C0" stroke-width="8.8" stroke-linecap="round" stroke-linejoin="round" stroke-dasharray="57 33"/>
<path d="M1041.59,295.5 1038.64,295.91 1035.67,296.98 1032.69,298.65 1029.73,300.83 1026.79,303.48 1023.91,306.5 1021.09,309.83 1018.36,313.4 1015.73,317.14 1013.21,320.97 1010.83,324.83 1008.61,328.64 1006.55,332.38 1004.64,336.07 1002.87,339.73 1001.24,343.41 999.75,347.11 998.37,350.83 997.11,354.58 995.95,358.35 994.9,362.14 993.94,365.95 993.07,369.77 992.27,373.62 991.54,377.48 990.88,381.36 990.28,385.25 989.72,389.15 989.2,393.07 988.72,397 988.27,400.94 987.84,404.89 987.41,408.85 987,412.82 986.58,416.79 986.15,420.77 985.71,424.76 985.24,428.74 984.74,432.73 984.2,436.73 983.62,440.72 982.98,444.72 982.28,448.71 981.51,452.7 980.69,456.69 979.81,460.68 978.88,464.66 977.91,468.64 976.91,472.62 975.89,476.6 974.85,480.57 973.8,484.54 972.75,488.51 971.71,492.48 970.68,496.44 969.67,500.4 968.69,504.35 967.74,508.31 966.84,512.26 965.99,516.2 965.19,520.15 964.47,524.09 963.81,528.02 963.24,531.95 962.75,535.88 962.36,539.81 962.07,543.73 961.89,547.64 961.79,551.56 961.79,555.47 961.87,559.38 962.03,563.29 962.26,567.2 962.56,571.11 962.92,575.02 963.33,578.93 963.8,582.84 964.31,586.76 964.87,590.68 965.45,594.6 966.07,598.53 966.71,602.46 967.37,606.4 968.04,610.34 968.73,614.29 969.44,618.25 970.15,622.21 970.89,626.17 971.63,630.13 972.4,634.1 973.18,638.06 973.97,642.03 974.79,646 975.61,649.96 976.46,653.92 977.32,657.88 978.2,661.84 979.09,665.79 980,669.74 980.93,673.68 981.88,677.62 982.85,681.54 983.83,685.46 984.83,689.38 985.85,693.28 986.89,697.17 987.94,701.05 989.02,704.92 990.11,708.78 991.23,712.63 992.36,716.46 993.53,720.27 994.73,724.05 996,727.8 997.33,731.51 998.75,735.18 1000.25,738.79 1001.86,742.34 1003.59,745.83 1005.44,749.24 1007.44,752.57 1009.59,755.82 1011.91,758.97 1014.4,762.03 1017.08,764.98 1019.94,767.83 1022.94,770.58 1026.08,773.25 1029.34,775.83 1032.68,778.34 1036.1,780.78 1039.57,783.15 1043.07,785.46 1046.58,787.72 1050.09,789.93 1053.57,792.1 1057.03,794.22 1060.47,796.3 1063.9,798.32 1067.32,800.29 1070.74,802.2 1074.16,804.04 1077.6,805.81 1081.05,807.5 1084.52,809.12 1088.02,810.65 1091.55,812.1 1095.13,813.45 1098.75,814.71 1102.42,815.87 1106.14,816.93 1109.93,817.87 1113.79,818.71 1117.73,819.42 1121.74,820.01 1125.84,820.48 1130.03,820.82 1134.29,821.02 1138.61,821.07 1142.95,820.98 1147.29,820.72 1151.61,820.29 1155.89,819.68 1160.09,818.89 1164.2,817.91 1168.19,816.72 1172.04,815.33 1175.72,813.73 1179.21,811.89 1182.48,809.83 1185.52,807.52 1188.29,804.97 1190.79,802.18 1193.05,799.18 1195.07,795.98 1196.87,792.6 1198.46,789.06 1199.86,785.4 1201.09,781.61 1202.15,777.74 1203.06,773.79 1203.84,769.8 1204.5,765.77 1205.05,761.73 1205.52,757.7 1205.89,753.67 1206.17,749.65 1206.37,745.63 1206.49,741.62 1206.53,737.62 1206.5,733.62 1206.4,729.62 1206.23,725.63 1205.99,721.65 1205.69,717.67 1205.34,713.69 1204.92,709.72 1204.46,705.75 1203.94,701.78 1203.38,697.82 1202.77,693.86 1202.12,689.91 1201.44,685.96 1200.72,682.01 1199.97,678.06 1199.19,674.12 1198.39,670.17 1197.56,666.23 1196.71,662.3 1195.84,658.36 1194.95,654.43 1194.03,650.5 1193.09,646.57 1192.13,642.65 1191.16,638.72 1190.16,634.8 1189.14,630.89 1188.1,626.98 1187.05,623.07 1185.97,619.16 1184.88,615.26 1183.77,611.36 1182.64,607.47 1181.49,603.58 1180.33,599.7 1179.15,595.81 1177.96,591.94 1176.75,588.06 1175.53,584.2 1174.29,580.33 1173.04,576.48 1171.77,572.62 1170.49,568.78 1169.2,564.93 1167.89,561.1 1166.57,557.26 1165.24,553.44 1163.9,549.62 1162.55,545.8 1161.19,542 1159.82,538.19 1158.43,534.4 1157.04,530.61 1155.64,526.82 1154.23,523.05 1152.81,519.28 1151.39,515.51 1149.95,511.76 1148.51,508.01 1147.06,504.27 1145.61,500.53 1144.15,496.81 1142.68,493.09 1141.21,489.37 1139.74,485.67 1138.26,481.97 1136.78,478.28 1135.29,474.6 1133.8,470.93 1132.31,467.27 1130.81,463.61 1129.31,459.97 1127.81,456.33 1126.31,452.7 1124.81,449.08 1123.31,445.46 1121.8,441.85 1120.29,438.25 1118.78,434.64 1117.26,431.04 1115.74,427.43 1114.21,423.82 1112.67,420.21 1111.13,416.59 1109.58,412.96 1108.02,409.33 1106.46,405.68 1104.88,402.02 1103.29,398.35 1101.7,394.67 1100.09,390.96 1098.47,387.24 1096.84,383.5 1095.2,379.74 1093.54,375.96 1091.87,372.15 1090.19,368.32 1088.49,364.46 1086.77,360.57 1085.04,356.65 1083.29,352.7 1081.53,348.72 1079.74,344.7 1077.94,340.65 1076.12,336.58 1074.26,332.52 1072.37,328.5 1070.44,324.56 1068.46,320.73 1066.43,317.04 1064.33,313.53 1062.16,310.23 1059.92,307.17 1057.59,304.39 1055.18,301.92 1052.67,299.79 1050.05,298.03 1047.33,296.69 1044.5,295.8 1041.59,295.5Z" fill="none" stroke="#DB9BFD" stroke-width="4.2" stroke-linecap="round" stroke-linejoin="round" stroke-dasharray="29.2 15.7 0.01 16 0.01 17"/>
<path d="M1050.64,453.35 1047.53,453.57 1044.38,454.57 1041.23,456.24 1038.11,458.5 1035.04,461.24 1032.06,464.36 1029.19,467.76 1026.46,471.34 1023.91,474.99 1021.53,478.65 1019.34,482.32 1017.31,485.99 1015.44,489.66 1013.72,493.35 1012.13,497.05 1010.66,500.77 1009.3,504.5 1008.04,508.25 1006.87,512.03 1005.77,515.81 1004.73,519.62 1003.74,523.44 1002.79,527.27 1001.85,531.11 1000.92,534.97 999.99,538.82 999.04,542.69 998.05,546.56 997.02,550.43 995.93,554.3 994.76,558.17 993.52,562.04 992.21,565.91 990.9,569.77 989.65,573.63 988.51,577.49 987.53,581.35 986.77,585.21 986.3,589.07 986.13,592.93 986.23,596.8 986.57,600.67 987.1,604.55 987.79,608.44 988.6,612.34 989.49,616.25 990.43,620.18 991.36,624.12 992.27,628.08 993.12,632.06 993.94,636.06 994.72,640.06 995.48,644.07 996.23,648.08 996.97,652.09 997.7,656.1 998.45,660.1 999.22,664.08 1000.01,668.05 1000.84,672.01 1001.71,675.94 1002.63,679.84 1003.62,683.71 1004.67,687.55 1005.79,691.36 1007,695.12 1008.3,698.84 1009.71,702.51 1011.22,706.12 1012.85,709.69 1014.61,713.19 1016.5,716.63 1018.54,720.01 1020.72,723.31 1023.06,726.55 1025.51,729.72 1028.08,732.85 1030.73,735.92 1033.44,738.97 1036.19,741.98 1038.96,744.97 1041.74,747.95 1044.49,750.92 1047.2,753.89 1049.85,756.88 1052.43,759.87 1054.98,762.83 1057.56,765.7 1060.24,768.41 1063.06,770.92 1066.07,773.2 1069.26,775.25 1072.6,777.11 1076.09,778.79 1079.71,780.32 1083.43,781.73 1087.25,783.03 1091.14,784.26 1095.1,785.43 1099.1,786.56 1103.13,787.69 1107.17,788.77 1111.23,789.78 1115.29,790.68 1119.35,791.43 1123.39,792.01 1127.41,792.37 1131.41,792.48 1135.37,792.3 1139.28,791.81 1143.14,790.96 1146.92,789.77 1150.58,788.24 1154.09,786.39 1157.41,784.24 1160.5,781.8 1163.33,779.09 1165.86,776.13 1168.06,772.93 1169.89,769.51 1171.32,765.88 1172.34,762.07 1173.03,758.1 1173.45,754.02 1173.67,749.85 1173.75,745.62 1173.75,741.37 1173.76,737.13 1173.79,732.92 1173.84,728.74 1173.9,724.58 1173.97,720.46 1174.04,716.35 1174.1,712.28 1174.13,708.23 1174.14,704.2 1174.11,700.2 1174.03,696.22 1173.89,692.26 1173.7,688.33 1173.43,684.41 1173.08,680.52 1172.64,676.65 1172.1,672.79 1171.46,668.96 1170.7,665.14 1169.83,661.34 1168.85,657.55 1167.77,653.78 1166.6,650.03 1165.34,646.28 1164.01,642.55 1162.6,638.82 1161.14,635.11 1159.62,631.4 1158.05,627.7 1156.45,624 1154.81,620.31 1153.15,616.61 1151.47,612.93 1149.78,609.24 1148.09,605.55 1146.4,601.85 1144.73,598.16 1143.08,594.46 1141.45,590.75 1139.87,587.04 1138.32,583.32 1136.83,579.59 1135.39,575.85 1134.01,572.1 1132.64,568.37 1131.24,564.67 1129.76,561.04 1128.15,557.49 1126.37,554.04 1124.42,550.7 1122.32,547.42 1120.1,544.21 1117.78,541.02 1115.39,537.84 1112.95,534.65 1110.5,531.41 1108.04,528.12 1105.62,524.74 1103.24,521.26 1100.94,517.67 1098.68,513.99 1096.48,510.23 1094.3,506.42 1092.16,502.59 1090.03,498.74 1087.91,494.91 1085.79,491.1 1083.66,487.35 1081.5,483.67 1079.31,480.08 1077.09,476.6 1074.81,473.25 1072.47,470.06 1070.07,467.04 1067.59,464.21 1065.01,461.59 1062.35,459.21 1059.57,457.09 1056.68,455.28 1053.7,453.97 1050.64,453.35Z" fill="none" stroke="#FF0000" stroke-width="5.2" stroke-linecap="round" stroke-linejoin="round"/>
<circle cx="1073.4" cy="660.3" r="16.6" fill="#E00000"/>
<line x1="2023.6" y1="71" x2="2162" y2="71" stroke="#000" stroke-width="8.5" stroke-linecap="round"/>
<line x1="2022.4" y1="144.4" x2="2047.5" y2="144.4" stroke="#0033A0" stroke-width="8.8" stroke-linecap="round"/>
<line x1="2079.5" y1="144.4" x2="2079.6" y2="144.4" stroke="#0033A0" stroke-width="8.8" stroke-linecap="round"/>
<line x1="2112.3" y1="144.4" x2="2136.6" y2="144.4" stroke="#0033A0" stroke-width="8.8" stroke-linecap="round"/>
<line x1="2022.4" y1="217.5" x2="2079.6" y2="217.5" stroke="#0070C0" stroke-width="8.8" stroke-linecap="round"/>
<line x1="2112.3" y1="217.5" x2="2162" y2="217.5" stroke="#0070C0" stroke-width="8.8" stroke-linecap="round"/>
<line x1="2024.5" y1="292.5" x2="2053.7" y2="292.5" stroke="#DB9BFD" stroke-width="4.8" stroke-linecap="round"/>
<line x1="2069.4" y1="292.5" x2="2069.5" y2="292.5" stroke="#DB9BFD" stroke-width="4.8" stroke-linecap="round"/>
<line x1="2085.5" y1="292.5" x2="2085.6" y2="292.5" stroke="#DB9BFD" stroke-width="4.8" stroke-linecap="round"/>
<line x1="2102.5" y1="292.5" x2="2130.5" y2="292.5" stroke="#DB9BFD" stroke-width="4.8" stroke-linecap="round"/>
<line x1="2146.5" y1="292.5" x2="2146.6" y2="292.5" stroke="#DB9BFD" stroke-width="4.8" stroke-linecap="round"/>
<line x1="2024.9" y1="365.9" x2="2158" y2="365.9" stroke="#FF0000" stroke-width="5.6" stroke-linecap="round"/>
<circle cx="2091.7" cy="436.8" r="16.6" fill="#E00000"/>
<line x1="253" y1="1602.4" x2="2248.5" y2="1602.4" stroke="#000" stroke-width="3" stroke-linecap="butt"/>
<line x1="2247" y1="1602.4" x2="2247" y2="2723.8" stroke="#000" stroke-width="3" stroke-linecap="butt"/>
<line x1="275.8" y1="1602.4" x2="275.8" y2="2746.2" stroke="#000" stroke-width="3" stroke-linecap="butt"/>
<line x1="253" y1="2723.8" x2="2248.5" y2="2723.8" stroke="#000" stroke-width="3" stroke-linecap="butt"/>
<line x1="253" y1="2723.8" x2="275.8" y2="2723.8" stroke="#000" stroke-width="3" stroke-linecap="butt"/>
<line x1="253" y1="2536.9" x2="275.8" y2="2536.9" stroke="#000" stroke-width="3" stroke-linecap="butt"/>
<line x1="253" y1="2350" x2="275.8" y2="2350" stroke="#000" stroke-width="3" stroke-linecap="butt"/>
<line x1="253" y1="2163.1" x2="275.8" y2="2163.1" stroke="#000" stroke-width="3" stroke-linecap="butt"/>
<line x1="253" y1="1976.2" x2="275.8" y2="1976.2" stroke="#000" stroke-width="3" stroke-linecap="butt"/>
<line x1="253" y1="1789.3" x2="275.8" y2="1789.3" stroke="#000" stroke-width="3" stroke-linecap="butt"/>
<line x1="253" y1="1602.4" x2="275.8" y2="1602.4" stroke="#000" stroke-width="3" stroke-linecap="butt"/>
<line x1="276" y1="2723.8" x2="276" y2="2746.2" stroke="#000" stroke-width="3" stroke-linecap="butt"/>
<line x1="557.57" y1="2723.8" x2="557.57" y2="2746.2" stroke="#000" stroke-width="3" stroke-linecap="butt"/>
<line x1="839.14" y1="2723.8" x2="839.14" y2="2746.2" stroke="#000" stroke-width="3" stroke-linecap="butt"/>
<line x1="1120.71" y1="2723.8" x2="1120.71" y2="2746.2" stroke="#000" stroke-width="3" stroke-linecap="butt"/>
<line x1="1402.28" y1="2723.8" x2="1402.28" y2="2746.2" stroke="#000" stroke-width="3" stroke-linecap="butt"/>
<line x1="1683.85" y1="2723.8" x2="1683.85" y2="2746.2" stroke="#000" stroke-width="3" stroke-linecap="butt"/>
<line x1="1965.42" y1="2723.8" x2="1965.42" y2="2746.2" stroke="#000" stroke-width="3" stroke-linecap="butt"/>
<line x1="2246.99" y1="2723.8" x2="2246.99" y2="2746.2" stroke="#000" stroke-width="3" stroke-linecap="butt"/>
<path d="M386.93,1788.18 387.38,1792.19 387.84,1796.19 388.3,1800.19 388.76,1804.18 389.24,1808.18 389.71,1812.17 390.19,1816.16 390.68,1820.15 391.17,1824.14 391.66,1828.12 392.16,1832.1 392.66,1836.08 393.17,1840.06 393.69,1844.04 394.21,1848.02 394.73,1851.99 395.26,1855.96 395.79,1859.93 396.33,1863.9 396.87,1867.87 397.42,1871.84 397.97,1875.8 398.53,1879.76 399.09,1883.72 399.66,1887.68 400.23,1891.64 400.8,1895.6 401.38,1899.56 401.97,1903.51 402.56,1907.46 403.15,1911.42 403.75,1915.37 404.36,1919.32 404.96,1923.26 405.58,1927.21 406.19,1931.16 406.82,1935.1 407.44,1939.05 408.08,1942.99 408.71,1946.93 409.35,1950.87 410,1954.82 410.65,1958.75 411.3,1962.69 411.96,1966.63 412.63,1970.57 413.29,1974.51 413.97,1978.44 414.65,1982.38 415.33,1986.31 416.01,1990.24 416.7,1994.18 417.4,1998.11 418.1,2002.04 418.81,2005.97 419.51,2009.9 420.23,2013.84 420.95,2017.77 421.67,2021.7 422.4,2025.63 423.13,2029.55 423.86,2033.48 424.6,2037.41 425.35,2041.34 426.1,2045.27 426.85,2049.2 427.61,2053.13 428.37,2057.05 429.14,2060.98 429.91,2064.91 430.69,2068.84 431.47,2072.77 432.25,2076.69 433.04,2080.62 433.84,2084.55 434.63,2088.48 435.44,2092.41 436.24,2096.34 437.05,2100.27 437.87,2104.2 438.69,2108.13 439.51,2112.06 440.34,2115.99 441.17,2119.92 442.01,2123.85 442.85,2127.78 443.7,2131.71 444.55,2135.65 445.41,2139.58 446.27,2143.51 447.15,2147.44 448.03,2151.36 448.92,2155.29 449.83,2159.21 450.74,2163.13 451.67,2167.04 452.61,2170.95 453.56,2174.85 454.53,2178.75 455.52,2182.65 456.52,2186.54 457.54,2190.42 458.57,2194.3 459.63,2198.16 460.71,2202.02 461.8,2205.88 462.92,2209.72 464.06,2213.55 465.23,2217.38 466.42,2221.19 467.63,2225 468.87,2228.79 470.13,2232.57 471.43,2236.34 472.75,2240.1 474.1,2243.85 475.48,2247.58 476.89,2251.3 478.33,2255 479.81,2258.69 481.32,2262.37 482.86,2266.03 484.44,2269.67 486.05,2273.3 487.7,2276.91 489.39,2280.51 491.11,2284.09 492.88,2287.65 494.68,2291.19 496.52,2294.71 498.4,2298.21 500.32,2301.7 502.27,2305.17 504.26,2308.62 506.29,2312.05 508.35,2315.46 510.44,2318.86 512.57,2322.23 514.73,2325.59 516.92,2328.92 519.15,2332.24 521.41,2335.54 523.7,2338.81 526.02,2342.07 528.37,2345.31 530.76,2348.53 533.17,2351.73 535.61,2354.91 538.08,2358.07 540.57,2361.21 543.1,2364.33 545.65,2367.43 548.23,2370.5 550.83,2373.56 553.46,2376.6 556.11,2379.61 558.79,2382.61 561.49,2385.58 564.22,2388.54 566.97,2391.47 569.74,2394.38 572.53,2397.27 575.35,2400.14 578.19,2402.98 581.04,2405.81 583.92,2408.61 586.83,2411.39 589.75,2414.14 592.69,2416.88 595.66,2419.59 598.64,2422.27 601.65,2424.94 604.68,2427.58 607.72,2430.2 610.79,2432.79 613.87,2435.36 616.98,2437.9 620.1,2440.42 623.25,2442.92 626.41,2445.39 629.59,2447.84 632.79,2450.26 636.01,2452.65 639.24,2455.02 642.5,2457.37 645.77,2459.69 649.06,2461.98 652.36,2464.24 655.68,2466.48 659.02,2468.7 662.38,2470.88 665.76,2473.04 669.15,2475.18 672.55,2477.28 675.97,2479.36 679.41,2481.41 682.86,2483.43 686.33,2485.42 689.82,2487.39 693.32,2489.33 696.83,2491.24 700.36,2493.12 703.9,2494.97 707.46,2496.79 711.03,2498.58 714.62,2500.34 718.22,2502.08 721.83,2503.78 725.45,2505.45 729.09,2507.1 732.74,2508.72 736.41,2510.3 740.08,2511.87 743.77,2513.4 747.47,2514.91 751.18,2516.39 754.9,2517.84 758.63,2519.27 762.37,2520.67 766.12,2522.05 769.88,2523.41 773.66,2524.74 777.44,2526.05 781.22,2527.33 785.02,2528.6 788.83,2529.84 792.64,2531.06 796.46,2532.26 800.29,2533.43 804.12,2534.59 807.97,2535.73 811.81,2536.85 815.67,2537.95 819.53,2539.03 823.4,2540.09 827.27,2541.13 831.15,2542.16 835.03,2543.17 838.91,2544.17 842.8,2545.14 846.7,2546.11 850.59,2547.05 854.49,2547.99 858.4,2548.91 862.3,2549.81 866.21,2550.7 870.12,2551.58 874.04,2552.45 877.95,2553.3 881.87,2554.14 885.79,2554.97 889.71,2555.79 893.63,2556.59 897.55,2557.39 901.48,2558.17 905.4,2558.94 909.33,2559.69 913.26,2560.44 917.19,2561.17 921.13,2561.89 925.06,2562.6 929,2563.3 932.94,2563.98 936.88,2564.66 940.82,2565.32 944.77,2565.97 948.71,2566.62 952.66,2567.25 956.6,2567.86 960.55,2568.47 964.51,2569.07 968.46,2569.66 972.41,2570.23 976.37,2570.79 980.32,2571.35 984.28,2571.89 988.24,2572.42 992.2,2572.95 996.16,2573.46 1000.13,2573.96 1004.09,2574.45 1008.06,2574.93 1012.03,2575.4 1015.99,2575.86 1019.96,2576.31 1023.94,2576.75 1027.91,2577.19 1031.88,2577.61 1035.86,2578.02 1039.83,2578.42 1043.81,2578.81 1047.79,2579.19 1051.77,2579.57 1055.75,2579.93 1059.73,2580.29 1063.71,2580.63 1067.69,2580.97 1071.68,2581.3 1075.66,2581.61 1079.65,2581.92 1083.64,2582.22 1087.63,2582.52 1091.62,2582.8 1095.61,2583.07 1099.6,2583.34 1103.59,2583.6 1107.58,2583.84 1111.58,2584.08 1115.57,2584.32 1119.57,2584.54 1123.56,2584.76 1127.56,2584.96 1131.56,2585.16 1135.56,2585.35 1139.55,2585.54 1143.55,2585.71 1147.56,2585.88 1151.56,2586.04 1155.56,2586.19 1159.56,2586.34 1163.56,2586.48 1167.57,2586.61 1171.57,2586.73 1175.58,2586.84 1179.58,2586.95 1183.59,2587.05 1187.6,2587.15 1191.6,2587.24 1195.61,2587.32 1199.62,2587.39 1203.63,2587.46 1207.64,2587.51 1211.65,2587.57 1215.66,2587.61 1219.67,2587.65 1223.68,2587.69 1227.69,2587.72 1231.7,2587.74 1235.71,2587.75 1239.73,2587.76 1243.74,2587.76 1247.75,2587.76 1251.76,2587.75 1255.78,2587.73 1259.79,2587.71 1263.8,2587.68 1267.82,2587.65 1271.83,2587.61 1275.85,2587.57 1279.86,2587.52 1283.88,2587.46 1287.89,2587.4 1291.9,2587.34 1295.92,2587.27 1299.93,2587.19 1303.95,2587.11 1307.96,2587.03 1311.98,2586.93 1315.99,2586.84 1320.01,2586.74 1324.02,2586.63 1328.04,2586.52 1332.05,2586.41 1336.07,2586.29 1340.08,2586.17 1344.09,2586.03 1348.11,2585.9 1352.12,2585.75 1356.13,2585.6 1360.14,2585.44 1364.15,2585.26 1368.16,2585.08 1372.17,2584.89 1376.17,2584.69 1380.17,2584.47 1384.18,2584.24 1388.18,2584 1392.17,2583.74 1396.17,2583.47 1400.16,2583.19 1404.15,2582.89 1408.14,2582.57 1412.12,2582.23 1416.1,2581.88 1420.08,2581.5 1424.05,2581.11 1428.02,2580.7 1431.99,2580.27 1435.96,2579.81 1439.92,2579.34 1443.87,2578.84 1447.82,2578.32 1451.77,2577.77 1455.71,2577.2 1459.65,2576.61 1463.58,2575.99 1467.51,2575.34 1471.43,2574.66 1475.35,2573.96 1479.26,2573.23 1483.17,2572.47 1487.07,2571.68 1490.97,2570.86 1494.86,2570.01 1498.74,2569.12 1502.62,2568.21 1506.49,2567.26 1510.35,2566.27 1514.21,2565.26 1518.06,2564.21 1521.91,2563.12 1525.74,2561.99 1529.57,2560.83 1533.39,2559.63 1537.21,2558.4 1541.02,2557.12 1544.81,2555.8 1548.61,2554.45 1552.39,2553.05 1556.16,2551.61 1559.93,2550.13 1563.68,2548.6 1567.4,2547.01 1571.07,2545.34 1574.69,2543.58 1578.24,2541.73 1581.71,2539.76 1585.07,2537.68 1588.33,2535.45 1591.46,2533.08 1594.45,2530.55 1597.29,2527.84 1599.96,2524.95 1602.45,2521.86 1604.76,2518.56 1606.87,2515.08 1608.8,2511.45 1610.55,2507.7 1612.14,2503.87 1613.56,2499.99 1614.83,2496.1 1615.95,2492.21 1616.92,2488.32 1617.75,2484.43 1618.45,2480.54 1619.02,2476.66 1619.45,2472.78 1619.77,2468.9 1619.96,2465.02 1620.05,2461.14 1620.02,2457.27 1619.88,2453.39 1619.64,2449.52 1619.31,2445.65 1618.88,2441.78 1618.37,2437.91 1617.77,2434.04 1617.09,2430.17 1616.34,2426.31 1615.51,2422.44 1614.62,2418.58 1613.66,2414.71 1612.65,2410.85 1611.58,2406.99 1610.46,2403.13 1609.3,2399.27 1608.1,2395.42 1606.86,2391.56 1605.59,2387.7 1604.29,2383.85 1602.97,2379.99 1601.62,2376.14 1600.27,2372.29 1598.9,2368.44 1597.53,2364.58 1596.15,2360.73 1594.78,2356.88 1593.41,2353.03 1592.06,2349.18 1590.72,2345.33 1589.39,2341.48 1588.08,2337.63 1586.77,2333.79 1585.49,2329.94 1584.21,2326.09 1582.95,2322.24 1581.7,2318.4 1580.46,2314.55 1579.23,2310.7 1578.01,2306.86 1576.81,2303.01 1575.61,2299.17 1574.43,2295.32 1573.25,2291.48 1572.08,2287.63 1570.93,2283.79 1569.78,2279.94 1568.64,2276.1 1567.51,2272.26 1566.39,2268.41 1565.28,2264.57 1564.17,2260.73 1563.07,2256.88 1561.98,2253.04 1560.9,2249.2 1559.82,2245.36 1558.75,2241.51 1557.68,2237.67 1556.62,2233.83 1555.57,2229.99 1554.52,2226.14 1553.47,2222.3 1552.43,2218.46 1551.4,2214.62 1550.36,2210.78 1549.34,2206.94 1548.31,2203.09 1547.29,2199.25 1546.27,2195.41 1545.25,2191.57 1544.24,2187.73 1543.23,2183.89 1542.22,2180.05 1541.21,2176.2 1540.2,2172.36 1539.19,2168.52 1538.19,2164.68 1537.18,2160.84 1536.17,2156.99 1535.17,2153.15 1534.16,2149.31 1533.15,2145.47 1532.14,2141.62 1531.13,2137.78 1530.12,2133.94 1529.1,2130.09 1528.08,2126.25 1527.06,2122.41 1526.04,2118.56 1525.01,2114.72 1523.98,2110.88 1522.95,2107.03 1521.91,2103.19 1520.87,2099.34 1519.83,2095.5 1518.77,2091.65 1517.72,2087.81 1516.66,2083.96 1515.59,2080.11 1514.52,2076.27 1513.43,2072.42 1512.35,2068.57 1511.25,2064.72 1510.15,2060.88 1509.05,2057.03 1507.93,2053.18 1506.8,2049.33 1505.67,2045.48 1504.53,2041.63 1503.38,2037.78 1502.23,2033.93 1501.07,2030.07 1499.91,2026.22 1498.74,2022.37 1497.57,2018.51 1496.4,2014.66 1495.23,2010.8 1494.06,2006.95 1492.88,2003.09 1491.72,1999.23 1490.55,1995.37 1489.39,1991.51 1488.23,1987.65 1487.08,1983.79 1485.93,1979.92 1484.79,1976.06 1483.66,1972.19 1482.54,1968.32 1481.43,1964.46 1480.33,1960.58 1479.25,1956.71 1478.17,1952.84 1477.11,1948.96 1476.06,1945.08 1475.03,1941.21 1474.02,1937.33 1473.02,1933.44 1472.04,1929.56 1471.08,1925.67 1470.14,1921.78 1469.23,1917.89 1468.33,1914 1467.46,1910.11 1466.6,1906.21 1465.77,1902.31 1464.96,1898.41 1464.16,1894.51 1463.37,1890.61 1462.6,1886.7 1461.83,1882.79 1461.08,1878.89 1460.33,1874.98 1459.58,1871.07 1458.84,1867.16 1458.1,1863.25 1457.35,1859.34 1456.6,1855.43 1455.84,1851.52 1455.08,1847.61 1454.31,1843.7 1453.52,1839.79 1452.72,1835.88 1451.91,1831.97 1451.08,1828.06 1450.22,1824.15 1449.35,1820.24 1448.45,1816.34 1447.53,1812.43 1446.58,1808.53 1445.6,1804.63 1444.59,1800.73 1443.54,1796.83 1442.46,1792.93 1441.35,1789.04" fill="none" stroke="#000" stroke-width="10.2" stroke-linecap="round" stroke-linejoin="round"/>
<path d="M506.08,1787.58 506.26,1791.62 506.45,1795.66 506.65,1799.69 506.86,1803.71 507.09,1807.74 507.33,1811.76 507.59,1815.78 507.86,1819.79 508.14,1823.8 508.43,1827.81 508.73,1831.81 509.05,1835.81 509.38,1839.81 509.72,1843.8 510.08,1847.79 510.44,1851.78 510.82,1855.77 511.21,1859.75 511.61,1863.73 512.02,1867.71 512.44,1871.68 512.88,1875.66 513.32,1879.63 513.78,1883.59 514.25,1887.56 514.72,1891.52 515.21,1895.48 515.71,1899.44 516.22,1903.4 516.74,1907.35 517.27,1911.31 517.81,1915.26 518.36,1919.21 518.92,1923.15 519.49,1927.1 520.07,1931.04 520.66,1934.98 521.25,1938.92 521.86,1942.86 522.48,1946.8 523.1,1950.74 523.74,1954.67 524.38,1958.61 525.03,1962.54 525.69,1966.47 526.36,1970.4 527.03,1974.33 527.72,1978.26 528.41,1982.19 529.11,1986.11 529.82,1990.04 530.54,1993.97 531.26,1997.89 531.99,2001.82 532.73,2005.74 533.48,2009.66 534.23,2013.59 534.99,2017.51 535.76,2021.43 536.53,2025.35 537.31,2029.28 538.1,2033.2 538.89,2037.12 539.69,2041.04 540.5,2044.97 541.31,2048.89 542.13,2052.81 542.95,2056.73 543.78,2060.66 544.62,2064.58 545.46,2068.51 546.31,2072.43 547.16,2076.36 548.02,2080.28 548.88,2084.21 549.75,2088.14 550.62,2092.07 551.5,2095.99 552.39,2099.92 553.28,2103.85 554.19,2107.77 555.1,2111.69 556.02,2115.61 556.95,2119.53 557.9,2123.45 558.85,2127.36 559.82,2131.27 560.8,2135.17 561.79,2139.07 562.8,2142.97 563.82,2146.86 564.86,2150.74 565.91,2154.62 566.98,2158.49 568.06,2162.36 569.16,2166.21 570.28,2170.07 571.42,2173.91 572.58,2177.74 573.76,2181.57 574.95,2185.39 576.17,2189.2 577.41,2192.99 578.68,2196.78 579.96,2200.56 581.27,2204.33 582.6,2208.09 583.96,2211.83 585.34,2215.56 586.75,2219.28 588.18,2222.99 589.64,2226.69 591.13,2230.37 592.64,2234.04 594.19,2237.69 595.76,2241.33 597.37,2244.95 599,2248.56 600.67,2252.16 602.36,2255.73 604.09,2259.3 605.85,2262.84 607.65,2266.37 609.48,2269.88 611.34,2273.37 613.24,2276.84 615.18,2280.3 617.15,2283.73 619.15,2287.15 621.2,2290.55 623.28,2293.92 625.41,2297.28 627.57,2300.61 629.77,2303.93 632.01,2307.22 634.3,2310.49 636.62,2313.74 638.99,2316.96 641.4,2320.16 643.85,2323.34 646.34,2326.5 648.86,2329.64 651.42,2332.76 654.01,2335.86 656.63,2338.94 659.29,2342 661.96,2345.05 664.67,2348.08 667.39,2351.1 670.14,2354.1 672.9,2357.09 675.68,2360.07 678.48,2363.04 681.28,2365.99 684.1,2368.93 686.93,2371.87 689.76,2374.8 692.6,2377.71 695.44,2380.63 698.29,2383.53 701.13,2386.43 703.97,2389.33 706.8,2392.22 709.62,2395.11 712.44,2398 715.25,2400.88 718.04,2403.77 720.81,2406.65 723.57,2409.54 726.31,2412.43 729.03,2415.32 731.73,2418.21 734.4,2421.11 737.05,2424.02 739.67,2426.92 742.3,2429.81 744.94,2432.66 747.62,2435.47 750.36,2438.23 753.17,2440.9 756.07,2443.49 759.09,2445.98 762.23,2448.36 765.47,2450.64 768.8,2452.83 772.21,2454.94 775.69,2456.98 779.21,2458.97 782.78,2460.9 786.36,2462.8 789.96,2464.66 793.57,2466.5 797.19,2468.3 800.83,2470.08 804.46,2471.83 808.11,2473.55 811.77,2475.24 815.44,2476.9 819.12,2478.53 822.81,2480.13 826.5,2481.71 830.21,2483.25 833.92,2484.77 837.64,2486.26 841.37,2487.71 845.11,2489.14 848.86,2490.54 852.62,2491.91 856.38,2493.26 860.16,2494.57 863.94,2495.86 867.73,2497.13 871.52,2498.36 875.33,2499.57 879.14,2500.75 882.96,2501.91 886.78,2503.04 890.61,2504.15 894.45,2505.23 898.3,2506.29 902.15,2507.32 906.01,2508.33 909.88,2509.32 913.75,2510.28 917.63,2511.22 921.51,2512.14 925.4,2513.04 929.29,2513.91 933.19,2514.76 937.1,2515.59 941.01,2516.4 944.92,2517.19 948.85,2517.96 952.77,2518.71 956.7,2519.44 960.64,2520.15 964.57,2520.84 968.52,2521.52 972.47,2522.17 976.42,2522.81 980.37,2523.43 984.33,2524.03 988.29,2524.61 992.26,2525.18 996.23,2525.73 1000.2,2526.27 1004.18,2526.79 1008.16,2527.29 1012.14,2527.78 1016.12,2528.25 1020.11,2528.71 1024.1,2529.16 1028.09,2529.59 1032.08,2530.01 1036.08,2530.41 1040.07,2530.8 1044.07,2531.18 1048.07,2531.55 1052.07,2531.91 1056.08,2532.25 1060.08,2532.58 1064.09,2532.9 1068.09,2533.21 1072.1,2533.52 1076.11,2533.81 1080.11,2534.09 1084.12,2534.36 1088.13,2534.62 1092.14,2534.87 1096.15,2535.12 1100.16,2535.36 1104.16,2535.59 1108.17,2535.81 1112.18,2536.02 1116.18,2536.23 1120.19,2536.43 1124.19,2536.63 1128.2,2536.82 1132.2,2537 1136.2,2537.18 1140.2,2537.36 1144.19,2537.52 1148.19,2537.69 1152.18,2537.85 1156.17,2538.01 1160.16,2538.16 1164.15,2538.32 1168.13,2538.46 1172.11,2538.61 1176.09,2538.76 1180.07,2538.9 1184.04,2539.03 1188.01,2539.17 1191.98,2539.29 1195.95,2539.4 1199.91,2539.51 1203.88,2539.6 1207.84,2539.69 1211.8,2539.75 1215.76,2539.81 1219.72,2539.84 1223.67,2539.86" fill="none" stroke="#FF6600" stroke-width="10.8" stroke-linecap="round" stroke-linejoin="round" stroke-dasharray="68.5 39"/><path d="M1219.36,1807.16 1220.31,1811.08 1221.27,1814.99 1222.24,1818.89 1223.23,1822.79 1224.23,1826.69 1225.25,1830.58 1226.27,1834.47 1227.31,1838.35 1228.36,1842.22 1229.42,1846.1 1230.5,1849.96 1231.58,1853.83 1232.68,1857.69 1233.78,1861.54 1234.9,1865.39 1236.03,1869.24 1237.17,1873.08 1238.32,1876.92 1239.48,1880.76 1240.65,1884.59 1241.83,1888.42 1243.02,1892.24 1244.21,1896.06 1245.42,1899.88 1246.64,1903.69 1247.86,1907.5 1249.1,1911.31 1250.34,1915.11 1251.59,1918.91 1252.85,1922.71 1254.12,1926.5 1255.4,1930.3 1256.68,1934.08 1257.97,1937.87 1259.27,1941.65 1260.57,1945.43 1261.88,1949.21 1263.2,1952.99 1264.52,1956.76 1265.85,1960.53 1267.19,1964.3 1268.53,1968.06 1269.88,1971.83 1271.24,1975.59 1272.6,1979.35 1273.96,1983.11 1275.33,1986.86 1276.71,1990.62 1278.09,1994.37 1279.47,1998.12 1280.86,2001.87 1282.25,2005.61 1283.65,2009.36 1285.05,2013.1 1286.45,2016.85 1287.86,2020.59 1289.27,2024.33 1290.68,2028.07 1292.1,2031.81 1293.51,2035.54 1294.94,2039.28 1296.36,2043.02 1297.78,2046.75 1299.21,2050.48 1300.64,2054.22 1302.07,2057.95 1303.5,2061.68 1304.94,2065.41 1306.37,2069.15 1307.81,2072.88 1309.24,2076.61 1310.68,2080.34 1312.12,2084.07 1313.55,2087.8 1314.99,2091.53 1316.43,2095.26 1317.86,2098.99 1319.3,2102.72 1320.73,2106.45 1322.16,2110.19 1323.6,2113.92 1325.03,2117.65 1326.46,2121.39 1327.88,2125.12 1329.31,2128.85 1330.73,2132.59 1332.15,2136.33 1333.57,2140.06 1334.99,2143.8 1336.4,2147.54 1337.81,2151.28 1339.22,2155.03 1340.62,2158.77 1342.02,2162.51 1343.42,2166.26 1344.81,2170.01 1346.2,2173.76 1347.58,2177.51 1348.96,2181.26 1350.34,2185.01 1351.71,2188.77 1353.07,2192.53 1354.43,2196.29 1355.79,2200.05 1357.14,2203.82 1358.48,2207.58 1359.82,2211.35 1361.15,2215.12 1362.47,2218.9 1363.79,2222.67 1365.1,2226.45 1366.4,2230.23 1367.7,2234.01 1368.99,2237.8 1370.27,2241.59 1371.55,2245.38 1372.82,2249.18 1374.08,2252.98 1375.33,2256.78 1376.57,2260.58 1377.81,2264.39 1379.03,2268.2 1380.25,2272.02 1381.46,2275.83 1382.66,2279.65 1383.84,2283.48 1385.02,2287.31 1386.19,2291.14 1387.35,2294.98 1388.5,2298.82 1389.64,2302.66 1390.77,2306.51 1391.89,2310.36 1393,2314.22 1394.09,2318.08 1395.18,2321.94 1396.25,2325.81 1397.31,2329.69 1398.36,2333.56 1399.4,2337.45 1400.43,2341.33 1401.44,2345.22 1402.44,2349.12 1403.42,2353.02 1404.39,2356.93 1405.35,2360.84 1406.28,2364.75 1407.19,2368.67 1408.09,2372.59 1408.96,2376.51 1409.81,2380.44 1410.63,2384.37 1411.43,2388.31 1412.21,2392.25 1412.95,2396.19 1413.67,2400.14 1414.36,2404.08 1415.01,2408.03 1415.63,2411.99 1416.22,2415.94 1416.78,2419.9 1417.3,2423.86 1417.78,2427.82 1418.22,2431.79 1418.63,2435.75 1418.99,2439.72 1419.31,2443.69 1419.59,2447.66 1419.78,2451.62 1419.82,2455.56 1419.63,2459.46 1419.14,2463.3 1418.33,2467.06 1417.22,2470.75 1415.84,2474.34 1414.2,2477.84 1412.33,2481.23 1410.24,2484.5 1407.97,2487.64 1405.52,2490.64 1402.91,2493.52 1400.16,2496.25 1397.27,2498.87 1394.24,2501.36 1391.09,2503.73 1387.82,2505.98 1384.45,2508.13 1380.97,2510.16 1377.41,2512.1 1373.77,2513.94 1370.05,2515.68 1366.27,2517.33 1362.43,2518.9 1358.54,2520.38 1354.62,2521.78 1350.66,2523.11 1346.68,2524.38 1342.69,2525.57 1338.69,2526.7 1334.7,2527.78 1330.71,2528.8 1326.72,2529.76 1322.73,2530.67 1318.75,2531.53 1314.77,2532.33 1310.79,2533.09 1306.82,2533.8 1302.85,2534.46 1298.88,2535.08 1294.91,2535.65 1290.94,2536.18 1286.98,2536.66 1283.02,2537.11 1279.06,2537.52 1275.1,2537.89 1271.14,2538.22 1267.18,2538.52 1263.22,2538.78 1259.27,2539.01 1255.31,2539.22 1251.36,2539.39 1247.4,2539.53 1243.45,2539.65 1239.5,2539.73 1235.54,2539.8 1231.59,2539.84 1227.63,2539.86 1223.67,2539.86" fill="none" stroke="#FF6600" stroke-width="10.8" stroke-linecap="round" stroke-linejoin="round" stroke-dasharray="68.5 39"/>
<path d="M595.24,1788 595.69,1791.94 596.14,1795.89 596.59,1799.83 597.03,1803.78 597.46,1807.74 597.89,1811.7 598.32,1815.66 598.75,1819.62 599.17,1823.58 599.58,1827.55 600,1831.52 600.41,1835.49 600.82,1839.47 601.22,1843.44 601.63,1847.42 602.03,1851.4 602.44,1855.38 602.84,1859.37 603.24,1863.35 603.64,1867.34 604.04,1871.33 604.44,1875.32 604.84,1879.31 605.25,1883.3 605.65,1887.3 606.05,1891.29 606.46,1895.29 606.87,1899.28 607.28,1903.28 607.69,1907.28 608.1,1911.27 608.52,1915.27 608.94,1919.27 609.37,1923.27 609.8,1927.27 610.23,1931.27 610.66,1935.26 611.1,1939.26 611.55,1943.26 612,1947.26 612.46,1951.25 612.92,1955.25 613.39,1959.25 613.86,1963.24 614.34,1967.23 614.83,1971.23 615.32,1975.22 615.82,1979.21 616.33,1983.2 616.85,1987.19 617.37,1991.17 617.91,1995.16 618.45,1999.14 619,2003.12 619.56,2007.1 620.13,2011.08 620.71,2015.05 621.3,2019.03 621.9,2023 622.51,2026.97 623.13,2030.93 623.76,2034.9 624.4,2038.86 625.06,2042.82 625.73,2046.77 626.4,2050.72 627.1,2054.67 627.8,2058.62 628.52,2062.56 629.25,2066.5 629.99,2070.44 630.75,2074.37 631.52,2078.3 632.31,2082.22 633.11,2086.15 633.93,2090.06 634.76,2093.98 635.6,2097.89 636.47,2101.79 637.34,2105.69 638.24,2109.59 639.15,2113.48 640.08,2117.37 641.02,2121.25 641.99,2125.13 642.97,2129 643.97,2132.87 644.98,2136.73 646.02,2140.59 647.07,2144.44 648.14,2148.29 649.24,2152.13 650.35,2155.97 651.48,2159.8 652.63,2163.62 653.8,2167.44 655,2171.26 656.21,2175.06 657.44,2178.86 658.7,2182.66 659.98,2186.45 661.28,2190.23 662.6,2194 663.95,2197.77 665.31,2201.53 666.71,2205.29 668.12,2209.04 669.56,2212.78 671.02,2216.51 672.51,2220.24 674.02,2223.96 675.55,2227.67 677.11,2231.37 678.7,2235.07 680.31,2238.76 681.95,2242.43 683.61,2246.1 685.3,2249.76 687.01,2253.41 688.75,2257.04 690.52,2260.66 692.31,2264.28 694.13,2267.87 695.98,2271.45 697.85,2275.02 699.75,2278.58 701.68,2282.11 703.64,2285.64 705.62,2289.14 707.63,2292.63 709.67,2296.1 711.74,2299.55 713.83,2302.98 715.96,2306.39 718.11,2309.78 720.29,2313.15 722.5,2316.5 724.74,2319.82 727.01,2323.13 729.31,2326.41 731.63,2329.66 733.99,2332.89 736.38,2336.1 738.8,2339.28 741.24,2342.44 743.72,2345.56 746.23,2348.67 748.77,2351.74 751.34,2354.78 753.94,2357.8 756.57,2360.78 759.24,2363.74 761.93,2366.66 764.66,2369.55 767.42,2372.41 770.21,2375.24 773.03,2378.04 775.89,2380.8 778.77,2383.52 781.69,2386.21 784.65,2388.87 787.63,2391.49 790.65,2394.07 793.71,2396.62 796.79,2399.13 799.91,2401.6 803.06,2404.03 806.24,2406.43 809.45,2408.79 812.69,2411.11 815.96,2413.4 819.26,2415.65 822.58,2417.87 825.94,2420.05 829.32,2422.19 832.72,2424.31 836.15,2426.38 839.6,2428.42 843.08,2430.43 846.58,2432.41 850.1,2434.35 853.64,2436.25 857.21,2438.13 860.79,2439.97 864.39,2441.78 868.02,2443.55 871.66,2445.3 875.31,2447.01 878.99,2448.69 882.68,2450.33 886.38,2451.95 890.1,2453.54 893.84,2455.09 897.58,2456.62 901.34,2458.11 905.11,2459.57 908.9,2461.01 912.69,2462.41 916.49,2463.78 920.31,2465.13 924.13,2466.45 927.96,2467.73 931.79,2468.99 935.63,2470.22 939.48,2471.43 943.33,2472.6 947.19,2473.75 951.05,2474.87 954.92,2475.97 958.78,2477.03 962.65,2478.07 966.52,2479.09 970.39,2480.07 974.26,2481.04 978.13,2481.97 982,2482.88 985.86,2483.77 989.73,2484.63 993.6,2485.46 997.47,2486.27 1001.34,2487.05 1005.22,2487.81 1009.09,2488.55 1012.97,2489.25 1016.85,2489.94 1020.74,2490.6 1024.62,2491.23 1028.51,2491.84 1032.41,2492.43 1036.31,2492.99 1040.21,2493.52 1044.12,2494.03 1048.04,2494.52 1051.96,2494.98 1055.89,2495.42 1059.82,2495.84 1063.76,2496.23 1067.71,2496.6 1071.66,2496.94 1075.63,2497.26 1079.6,2497.55 1083.58,2497.83 1087.57,2498.08 1091.56,2498.3 1095.57,2498.5 1099.59,2498.68 1103.62,2498.84 1107.66,2498.97 1111.71,2499.08 1115.77,2499.17 1119.84,2499.23 1123.93,2499.27 1128.02,2499.29" fill="none" stroke="#00A9C7" stroke-width="10.8" stroke-linecap="round" stroke-linejoin="round" stroke-dasharray="29 39"/><path d="M1078.84,1821.42 1080.17,1825.17 1081.5,1828.92 1082.83,1832.67 1084.17,1836.43 1085.52,1840.18 1086.87,1843.93 1088.22,1847.69 1089.58,1851.44 1090.94,1855.2 1092.31,1858.96 1093.69,1862.71 1095.06,1866.47 1096.45,1870.23 1097.83,1873.99 1099.22,1877.75 1100.62,1881.51 1102.02,1885.27 1103.42,1889.02 1104.83,1892.78 1106.24,1896.54 1107.65,1900.3 1109.07,1904.06 1110.49,1907.82 1111.91,1911.58 1113.34,1915.34 1114.77,1919.1 1116.2,1922.86 1117.63,1926.61 1119.07,1930.37 1120.51,1934.13 1121.96,1937.88 1123.4,1941.64 1124.85,1945.39 1126.3,1949.15 1127.76,1952.9 1129.21,1956.65 1130.67,1960.4 1132.13,1964.15 1133.59,1967.9 1135.05,1971.65 1136.51,1975.39 1137.98,1979.14 1139.45,1982.88 1140.91,1986.63 1142.38,1990.37 1143.85,1994.11 1145.33,1997.84 1146.8,2001.58 1148.27,2005.32 1149.74,2009.05 1151.22,2012.78 1152.69,2016.51 1154.17,2020.24 1155.65,2023.96 1157.12,2027.69 1158.6,2031.41 1160.08,2035.13 1161.56,2038.85 1163.04,2042.57 1164.52,2046.28 1166,2050 1167.48,2053.71 1168.97,2057.43 1170.45,2061.14 1171.94,2064.85 1173.42,2068.56 1174.91,2072.26 1176.4,2075.97 1177.89,2079.68 1179.38,2083.38 1180.87,2087.09 1182.37,2090.79 1183.86,2094.49 1185.36,2098.19 1186.86,2101.89 1188.36,2105.59 1189.86,2109.29 1191.36,2112.99 1192.86,2116.69 1194.37,2120.39 1195.87,2124.09 1197.38,2127.78 1198.89,2131.48 1200.4,2135.18 1201.91,2138.87 1203.43,2142.57 1204.94,2146.26 1206.46,2149.96 1207.98,2153.65 1209.5,2157.35 1211.03,2161.04 1212.55,2164.74 1214.08,2168.44 1215.61,2172.13 1217.14,2175.83 1218.68,2179.52 1220.21,2183.22 1221.75,2186.92 1223.29,2190.61 1224.83,2194.31 1226.37,2198.01 1227.92,2201.71 1229.47,2205.41 1231.02,2209.1 1232.57,2212.8 1234.13,2216.51 1235.69,2220.21 1237.25,2223.91 1238.81,2227.61 1240.38,2231.32 1241.94,2235.02 1243.51,2238.73 1245.09,2242.44 1246.66,2246.14 1248.24,2249.85 1249.82,2253.56 1251.41,2257.27 1252.99,2260.99 1254.58,2264.7 1256.17,2268.42 1257.77,2272.13 1259.37,2275.85 1260.97,2279.57 1262.57,2283.29 1264.18,2287.02 1265.79,2290.74 1267.39,2294.47 1268.98,2298.2 1270.56,2301.94 1272.12,2305.68 1273.65,2309.44 1275.16,2313.2 1276.63,2316.97 1278.06,2320.75 1279.45,2324.54 1280.78,2328.35 1282.07,2332.16 1283.29,2336 1284.46,2339.85 1285.55,2343.71 1286.57,2347.6 1287.51,2351.5 1288.37,2355.43 1289.14,2359.37 1289.82,2363.34 1290.4,2367.33 1290.87,2371.34 1291.25,2375.38 1291.51,2379.42 1291.67,2383.48 1291.72,2387.53 1291.67,2391.58 1291.5,2395.62 1291.21,2399.65 1290.82,2403.65 1290.31,2407.63 1289.68,2411.58 1288.93,2415.49 1288.07,2419.36 1287.08,2423.18 1285.97,2426.94 1284.74,2430.65 1283.38,2434.29 1281.89,2437.86 1280.28,2441.35 1278.54,2444.76 1276.67,2448.08 1274.66,2451.31 1272.52,2454.44 1270.25,2457.47 1267.84,2460.39 1265.29,2463.19 1262.61,2465.87 1259.81,2468.44 1256.88,2470.89 1253.84,2473.23 1250.69,2475.45 1247.44,2477.55 1244.09,2479.54 1240.66,2481.41 1237.14,2483.17 1233.55,2484.81 1229.89,2486.34 1226.17,2487.76 1222.39,2489.06 1218.56,2490.26 1214.67,2491.36 1210.74,2492.37 1206.76,2493.28 1202.75,2494.1 1198.69,2494.85 1194.61,2495.51 1190.5,2496.11 1186.37,2496.63 1182.21,2497.09 1178.04,2497.5 1173.86,2497.84 1169.66,2498.14 1165.47,2498.4 1161.27,2498.61 1157.07,2498.78 1152.89,2498.93 1148.71,2499.04 1144.54,2499.14 1140.39,2499.21 1136.26,2499.26 1132.13,2499.29 1128.02,2499.29" fill="none" stroke="#00A9C7" stroke-width="10.8" stroke-linecap="round" stroke-linejoin="round" stroke-dasharray="29 39"/>
<path d="M807.81,2006.4 807.6,2002.3 807.39,1998.22 807.21,1994.16 807.11,1990.14 807.11,1986.17 807.25,1982.26 807.58,1978.44 808.12,1974.7 808.92,1971.08 810,1967.58 811.41,1964.21 813.18,1960.99 815.35,1957.93 817.96,1955.06 821.04,1952.37 824.59,1949.9 828.52,1947.7 832.69,1945.84 837,1944.38 841.33,1943.39 845.55,1942.92 849.59,1943 853.45,1943.59 857.15,1944.63 860.71,1946.08 864.13,1947.86 867.43,1949.95 870.63,1952.27 873.74,1954.78 876.77,1957.43 879.74,1960.16 882.66,1962.93 885.52,1965.74 888.35,1968.59 891.12,1971.47 893.85,1974.39 896.54,1977.35 899.19,1980.33 901.8,1983.35 904.37,1986.4 906.9,1989.47 909.4,1992.58 911.87,1995.7 914.31,1998.86 916.71,2002.04 919.09,2005.24 921.44,2008.46 923.77,2011.7 926.07,2014.96 928.35,2018.23 930.62,2021.52 932.86,2024.83 935.09,2028.15 937.3,2031.48 939.49,2034.82 941.68,2038.18 943.85,2041.54 946.02,2044.9 948.18,2048.28 950.33,2051.65 952.48,2055.03 954.63,2058.42 956.78,2061.8 958.93,2065.18 961.08,2068.56 963.23,2071.94 965.39,2075.31 967.56,2078.68 969.73,2082.04 971.91,2085.4 974.09,2088.75 976.28,2092.1 978.47,2095.45 980.66,2098.79 982.85,2102.14 985.04,2105.48 987.23,2108.82 989.42,2112.16 991.6,2115.51 993.78,2118.85 995.96,2122.2 998.12,2125.55 1000.28,2128.9 1002.43,2132.26 1004.57,2135.63 1006.7,2139 1008.81,2142.37 1010.92,2145.76 1013,2149.15 1015.08,2152.55 1017.13,2155.96 1019.17,2159.37 1021.2,2162.8 1023.2,2166.24 1025.18,2169.69 1027.14,2173.16 1029.08,2176.63 1030.99,2180.12 1032.88,2183.63 1034.75,2187.15 1036.58,2190.68 1038.39,2194.23 1040.17,2197.8 1041.92,2201.39 1043.64,2204.99 1045.33,2208.61 1046.99,2212.26 1048.61,2215.92 1050.19,2219.6 1051.74,2223.31 1053.25,2227.03 1054.73,2230.78 1056.17,2234.55 1057.58,2238.34 1058.96,2242.14 1060.32,2245.95 1061.66,2249.77 1062.99,2253.58 1064.31,2257.4 1065.62,2261.21 1066.94,2265.01 1068.26,2268.81 1069.59,2272.58 1070.93,2276.34 1072.27,2280.07 1073.6,2283.8 1074.89,2287.51 1076.12,2291.22 1077.27,2294.94 1078.31,2298.66 1079.23,2302.39 1080.01,2306.13 1080.62,2309.9 1081.05,2313.7 1081.26,2317.53 1081.25,2321.39 1080.98,2325.3 1080.44,2329.25 1079.61,2333.25 1078.46,2337.31 1076.99,2341.41 1075.23,2345.48 1073.19,2349.47 1070.89,2353.33 1068.37,2356.99 1065.64,2360.39 1062.72,2363.48 1059.64,2366.2 1056.41,2368.49 1053.07,2370.29 1049.63,2371.54 1046.11,2372.21 1042.52,2372.37 1038.86,2372.16 1035.13,2371.7 1031.33,2371.12 1027.45,2370.55 1023.5,2370.09 1019.49,2369.73 1015.43,2369.46 1011.33,2369.26 1007.19,2369.12 1003.02,2369.01 998.84,2368.91 994.65,2368.82 990.47,2368.71 986.29,2368.57 982.14,2368.37 978.02,2368.11 973.93,2367.76 969.9,2367.3 965.92,2366.72 962,2366 958.17,2365.13 954.41,2364.08 950.75,2362.85 947.16,2361.45 943.65,2359.89 940.22,2358.19 936.84,2356.35 933.52,2354.38 930.25,2352.3 927.03,2350.12 923.85,2347.85 920.7,2345.49 917.57,2343.07 914.46,2340.59 911.37,2338.07 908.29,2335.51 905.21,2332.92 902.15,2330.29 899.1,2327.64 896.06,2324.95 893.05,2322.23 890.06,2319.47 887.09,2316.69 884.16,2313.86 881.26,2311.01 878.39,2308.12 875.56,2305.19 872.78,2302.23 870.04,2299.24 867.35,2296.2 864.71,2293.13 862.13,2290.03 859.6,2286.88 857.14,2283.7 854.73,2280.48 852.4,2277.22 850.13,2273.93 847.92,2270.6 845.78,2267.23 843.7,2263.84 841.69,2260.41 839.73,2256.94 837.84,2253.45 836.01,2249.92 834.24,2246.37 832.54,2242.79 830.89,2239.19 829.3,2235.55 827.77,2231.89 826.3,2228.21 824.89,2224.51 823.54,2220.78 822.24,2217.03 821,2213.27 819.82,2209.48 818.69,2205.68 817.62,2201.86 816.61,2198.02 815.64,2194.17 814.74,2190.3 813.88,2186.42 813.08,2182.53 812.33,2178.63 811.64,2174.72 810.99,2170.8 810.4,2166.87 809.86,2162.93 809.36,2158.99 808.92,2155.05 808.53,2151.1 808.19,2147.14 807.89,2143.18 807.63,2139.22 807.42,2135.26 807.24,2131.29 807.1,2127.32 807,2123.34 806.93,2119.37 806.88,2115.38 806.86,2111.4 806.87,2107.41 806.9,2103.42 806.95,2099.42 807.01,2095.42 807.09,2091.41 807.18,2087.41 807.28,2083.39 807.39,2079.38 807.5,2075.36 807.62,2071.34 807.73,2067.31 807.84,2063.28 807.95,2059.24 808.05,2055.2 808.14,2051.16 808.22,2047.11 808.29,2043.06 808.33,2039 808.36,2034.94 808.37,2030.88 808.35,2026.81 808.3,2022.73 808.23,2018.66 808.12,2014.57 807.98,2010.49 807.81,2006.4Z" fill="none" stroke="#7A2CA2" stroke-width="10.8" stroke-linecap="round" stroke-linejoin="round" stroke-dasharray="29.5 39.2 0.01 39.2"/>
<path d="M905.61,2160.9 903.19,2162.4 901.24,2165.07 899.7,2168.65 898.49,2172.86 897.56,2177.46 896.85,2182.16 896.29,2186.72 895.85,2191 895.55,2195.09 895.39,2199.07 895.4,2203.04 895.58,2207.07 895.95,2211.16 896.51,2215.27 897.26,2219.39 898.21,2223.46 899.38,2227.48 900.76,2231.4 902.36,2235.2 904.2,2238.84 906.26,2242.3 908.57,2245.54 911.13,2248.54 913.93,2251.27 916.95,2253.74 920.19,2255.93 923.61,2257.84 927.2,2259.47 930.95,2260.82 934.83,2261.88 938.82,2262.64 942.91,2263.11 947.08,2263.28 951.31,2263.15 955.58,2262.71 959.86,2261.96 964.07,2260.89 968.06,2259.49 971.69,2257.75 974.81,2255.67 977.29,2253.23 978.99,2250.43 979.78,2247.25 979.67,2243.75 978.82,2240 977.34,2236.08 975.4,2232.07 973.1,2228.06 970.61,2224.11 968.05,2220.31 965.52,2216.72 963.03,2213.32 960.57,2210.08 958.12,2206.99 955.67,2204 953.22,2201.1 950.74,2198.27 948.24,2195.47 945.68,2192.68 943.08,2189.88 940.4,2187.04 937.65,2184.13 934.81,2181.13 931.86,2178.05 928.81,2174.93 925.62,2171.86 922.3,2168.88 918.83,2166.08 915.28,2163.61 911.79,2161.73 908.51,2160.74 905.61,2160.9Z" fill="none" stroke="#A93030" stroke-width="10.8" stroke-linecap="round" stroke-linejoin="round" stroke-dasharray="20 19"/>
<path d="M807.9,2008C807.9,1996.47 805.03,1983.26 807.9,1973.4C810.39,1964.88 815.6,1956.56 821.8,1951.6C827.69,1946.89 836.91,1944.47 843.7,1943.7C849.31,1943.06 854.19,1943.57 859.5,1945.6C866.06,1948.11 872.6,1953.71 879.4,1959.5C887.87,1966.71 896.87,1977.5 905.6,1986.5" fill="none" stroke="#7A2CA2" stroke-width="10.8" stroke-linecap="round" stroke-linejoin="round"/>
<path d="M1070.5,2273C1074,2283.6 1079.83,2294.08 1081,2304.8C1082.15,2315.25 1080.44,2327.38 1077.8,2336.5C1075.6,2344.1 1072.74,2350.64 1067.9,2356.3C1062.65,2362.44 1053.77,2366.37 1046.7,2371.4" fill="none" stroke="#7A2CA2" stroke-width="10.8" stroke-linecap="round" stroke-linejoin="round"/>
<path d="M1405.6,2376.2C1408.7,2387.3 1412.38,2398.14 1414.9,2409.5C1417.48,2421.12 1420.02,2435.65 1420.8,2445.2C1421.32,2451.53 1421.59,2455.86 1420.8,2461.1C1419.99,2466.46 1418.18,2472.23 1415.9,2477C1413.79,2481.43 1412.11,2484.71 1407.9,2488.9C1400.62,2496.15 1384.68,2506.31 1372.2,2512.7C1360.05,2518.93 1347.65,2522.9 1334.1,2527C1319.25,2531.5 1302.37,2534.4 1286.5,2538.1" fill="none" stroke="#FF6600" stroke-width="10.8" stroke-linecap="round" stroke-linejoin="round"/>
<path d="M1150,2500C1160.57,2498.93 1171.16,2498.37 1181.7,2496.8C1192.33,2495.21 1203.01,2493.36 1213.5,2490.5C1224.18,2487.59 1235.46,2484.08 1245.2,2479.4C1254.4,2474.98 1264.15,2470.21 1270.6,2463.5C1276.56,2457.3 1280.12,2449.18 1283.3,2441.3C1286.52,2433.33 1287.57,2424.37 1289.7,2415.9" fill="none" stroke="#00A9C7" stroke-width="10.8" stroke-linecap="round" stroke-linejoin="round"/>
<path d="M735.7,2422.2C742.97,2430.13 749.03,2439.43 757.5,2446C766.17,2452.72 775.97,2456.04 787.3,2461.9C802.11,2469.55 822.42,2481.06 838.9,2487.7C853.14,2493.43 866.52,2496.47 880,2500.5C892.97,2504.38 905.53,2507.83 918.3,2511.5" fill="none" stroke="#FF6600" stroke-width="10.8" stroke-linecap="round" stroke-linejoin="round"/>
<path d="M909.1,2337.7C917.03,2343.67 925.8,2351.51 932.9,2355.6C937.96,2358.52 942.5,2360.17 946.8,2361.5C950.32,2362.59 952.42,2362.76 956.7,2363.5C964.47,2364.85 978.7,2366.7 989.7,2368.3" fill="none" stroke="#7A2CA2" stroke-width="10.8" stroke-linecap="round" stroke-linejoin="round"/>
<line x1="2031.2" y1="1676.9" x2="2114.8" y2="1676.9" stroke="#000" stroke-width="10.2" stroke-linecap="round"/>
<line x1="2031.4" y1="1767.3" x2="2099.8" y2="1767.3" stroke="#FF6600" stroke-width="10.8" stroke-linecap="round"/>
<line x1="2031.4" y1="1857.4" x2="2060.9" y2="1857.4" stroke="#00A9C7" stroke-width="10.8" stroke-linecap="round"/>
<line x1="2100.2" y1="1857.4" x2="2114.6" y2="1857.4" stroke="#00A9C7" stroke-width="10.8" stroke-linecap="round"/>
<line x1="2031.4" y1="1947.4" x2="2060.9" y2="1947.4" stroke="#7A2CA2" stroke-width="10.8" stroke-linecap="round"/>
<line x1="2100" y1="1947.4" x2="2100.1" y2="1947.4" stroke="#7A2CA2" stroke-width="10.8" stroke-linecap="round"/>
<line x1="2031.4" y1="2038.1" x2="2051.3" y2="2038.1" stroke="#A93030" stroke-width="10.8" stroke-linecap="round"/>
<line x1="2070.4" y1="2038.1" x2="2090.4" y2="2038.1" stroke="#A93030" stroke-width="10.8" stroke-linecap="round"/>
<line x1="2109.3" y1="2038.1" x2="2114.6" y2="2038.1" stroke="#A93030" stroke-width="10.8" stroke-linecap="round"/>
<line x1="341.1" y1="3258.8" x2="341.1" y2="4325.5" stroke="#898989" stroke-width="5.5" stroke-linecap="butt"/>
<line x1="338.3" y1="4325.5" x2="2222.5" y2="4325.5" stroke="#898989" stroke-width="5.2" stroke-linecap="butt"/>
<line x1="316" y1="4325.5" x2="341.1" y2="4325.5" stroke="#898989" stroke-width="5.5" stroke-linecap="butt"/>
<line x1="316" y1="4161.4" x2="341.1" y2="4161.4" stroke="#898989" stroke-width="5.5" stroke-linecap="butt"/>
<line x1="316" y1="3997.3" x2="341.1" y2="3997.3" stroke="#898989" stroke-width="5.5" stroke-linecap="butt"/>
<line x1="316" y1="3833.2" x2="341.1" y2="3833.2" stroke="#898989" stroke-width="5.5" stroke-linecap="butt"/>
<line x1="316" y1="3669.1" x2="341.1" y2="3669.1" stroke="#898989" stroke-width="5.5" stroke-linecap="butt"/>
<line x1="316" y1="3505" x2="341.1" y2="3505" stroke="#898989" stroke-width="5.5" stroke-linecap="butt"/>
<line x1="316" y1="3340.9" x2="341.1" y2="3340.9" stroke="#898989" stroke-width="5.5" stroke-linecap="butt"/>
<line x1="341.5" y1="4325.5" x2="341.5" y2="4344.5" stroke="#898989" stroke-width="5.2" stroke-linecap="butt"/>
<line x1="610.21" y1="4325.5" x2="610.21" y2="4344.5" stroke="#898989" stroke-width="5.2" stroke-linecap="butt"/>
<line x1="878.92" y1="4325.5" x2="878.92" y2="4344.5" stroke="#898989" stroke-width="5.2" stroke-linecap="butt"/>
<line x1="1147.63" y1="4325.5" x2="1147.63" y2="4344.5" stroke="#898989" stroke-width="5.2" stroke-linecap="butt"/>
<line x1="1416.34" y1="4325.5" x2="1416.34" y2="4344.5" stroke="#898989" stroke-width="5.2" stroke-linecap="butt"/>
<line x1="1685.05" y1="4325.5" x2="1685.05" y2="4344.5" stroke="#898989" stroke-width="5.2" stroke-linecap="butt"/>
<line x1="1953.76" y1="4325.5" x2="1953.76" y2="4344.5" stroke="#898989" stroke-width="5.2" stroke-linecap="butt"/>
<line x1="2222.47" y1="4325.5" x2="2222.47" y2="4344.5" stroke="#898989" stroke-width="5.2" stroke-linecap="butt"/>
<clipPath id="cc"><rect x="338" y="3261" width="1884" height="1064"/></clipPath>
<g clip-path="url(#cc)"><path d="M433.44,3257.94 433.7,3261.95 433.96,3265.95 434.23,3269.95 434.5,3273.96 434.77,3277.96 435.05,3281.96 435.33,3285.96 435.62,3289.95 435.91,3293.95 436.21,3297.95 436.51,3301.94 436.81,3305.94 437.12,3309.93 437.43,3313.92 437.75,3317.91 438.07,3321.9 438.4,3325.89 438.73,3329.88 439.06,3333.87 439.39,3337.86 439.73,3341.84 440.08,3345.83 440.43,3349.81 440.78,3353.8 441.13,3357.78 441.49,3361.76 441.86,3365.74 442.22,3369.73 442.59,3373.71 442.97,3377.69 443.35,3381.67 443.73,3385.65 444.11,3389.62 444.5,3393.6 444.89,3397.58 445.29,3401.56 445.69,3405.53 446.09,3409.51 446.49,3413.48 446.9,3417.46 447.31,3421.43 447.73,3425.41 448.15,3429.38 448.57,3433.35 449,3437.33 449.43,3441.3 449.86,3445.27 450.29,3449.24 450.73,3453.22 451.17,3457.19 451.61,3461.16 452.06,3465.13 452.51,3469.1 452.97,3473.07 453.42,3477.04 453.88,3481.01 454.34,3484.98 454.81,3488.95 455.27,3492.92 455.74,3496.89 456.22,3500.86 456.69,3504.83 457.17,3508.8 457.65,3512.77 458.14,3516.74 458.62,3520.71 459.11,3524.68 459.6,3528.65 460.1,3532.62 460.6,3536.59 461.1,3540.56 461.6,3544.53 462.1,3548.5 462.61,3552.47 463.12,3556.44 463.63,3560.41 464.14,3564.39 464.66,3568.36 465.18,3572.33 465.7,3576.3 466.22,3580.27 466.75,3584.25 467.27,3588.22 467.8,3592.19 468.33,3596.17 468.87,3600.14 469.4,3604.12 469.94,3608.09 470.48,3612.07 471.02,3616.04 471.57,3620.02 472.11,3623.99 472.66,3627.97 473.21,3631.95 473.76,3635.93 474.31,3639.91 474.87,3643.89 475.43,3647.86 476,3651.84 476.57,3655.82 477.16,3659.79 477.75,3663.76 478.35,3667.72 478.97,3671.69 479.6,3675.64 480.25,3679.6 480.92,3683.54 481.6,3687.48 482.3,3691.42 483.02,3695.34 483.77,3699.26 484.53,3703.17 485.33,3707.07 486.15,3710.96 486.99,3714.84 487.87,3718.71 488.77,3722.57 489.71,3726.42 490.68,3730.25 491.68,3734.07 492.72,3737.88 493.78,3741.68 494.88,3745.47 496,3749.25 497.15,3753.02 498.32,3756.79 499.51,3760.55 500.72,3764.31 501.94,3768.06 503.19,3771.81 504.44,3775.56 505.71,3779.31 506.99,3783.06 508.28,3786.82 509.58,3790.57 510.88,3794.33 512.18,3798.1 513.48,3801.87 514.79,3805.65 516.09,3809.44 517.4,3813.23 518.71,3817.02 520.03,3820.82 521.35,3824.62 522.68,3828.43 524.02,3832.23 525.36,3836.04 526.71,3839.84 528.07,3843.64 529.45,3847.44 530.83,3851.24 532.22,3855.04 533.63,3858.83 535.06,3862.61 536.49,3866.39 537.94,3870.17 539.41,3873.93 540.9,3877.69 542.4,3881.44 543.93,3885.18 545.47,3888.91 547.03,3892.63 548.62,3896.34 550.22,3900.03 551.85,3903.71 553.51,3907.38 555.19,3911.03 556.89,3914.67 558.62,3918.29 560.38,3921.89 562.17,3925.48 563.99,3929.05 565.83,3932.59 567.71,3936.12 569.62,3939.63 571.56,3943.11 573.53,3946.57 575.54,3950.01 577.59,3953.43 579.67,3956.82 581.78,3960.19 583.94,3963.52 586.13,3966.84 588.36,3970.12 590.62,3973.38 592.92,3976.62 595.26,3979.83 597.63,3983.01 600.03,3986.16 602.47,3989.29 604.95,3992.39 607.45,3995.46 609.99,3998.51 612.56,4001.53 615.17,4004.52 617.81,4007.49 620.47,4010.43 623.17,4013.34 625.9,4016.22 628.66,4019.08 631.45,4021.91 634.27,4024.71 637.12,4027.49 640,4030.23 642.91,4032.95 645.84,4035.64 648.8,4038.3 651.79,4040.94 654.8,4043.54 657.84,4046.12 660.91,4048.67 664,4051.2 667.12,4053.69 670.26,4056.15 673.43,4058.59 676.62,4061 679.83,4063.38 683.07,4065.73 686.33,4068.05 689.61,4070.35 692.91,4072.61 696.24,4074.85 699.58,4077.05 702.95,4079.23 706.34,4081.38 709.74,4083.5 713.17,4085.59 716.61,4087.65 720.08,4089.68 723.56,4091.68 727.06,4093.65 730.58,4095.59 734.11,4097.51 737.66,4099.39 741.23,4101.24 744.81,4103.06 748.41,4104.86 752.02,4106.62 755.65,4108.35 759.29,4110.05 762.95,4111.72 766.61,4113.37 770.3,4114.98 773.99,4116.56 777.7,4118.11 781.42,4119.63 785.15,4121.11 788.89,4122.57 792.64,4124 796.4,4125.39 800.17,4126.76 803.95,4128.09 807.74,4129.39 811.54,4130.67 815.35,4131.9 819.16,4133.11 822.98,4134.29 826.81,4135.44 830.65,4136.56 834.49,4137.65 838.34,4138.71 842.2,4139.75 846.06,4140.76 849.92,4141.75 853.8,4142.71 857.68,4143.65 861.56,4144.57 865.45,4145.48 869.34,4146.36 873.24,4147.22 877.14,4148.07 881.04,4148.9 884.95,4149.72 888.86,4150.52 892.78,4151.31 896.69,4152.08 900.61,4152.85 904.54,4153.6 908.46,4154.35 912.39,4155.09 916.32,4155.82 920.25,4156.54 924.18,4157.26 928.11,4157.98 932.04,4158.69 935.98,4159.4 939.91,4160.11 943.84,4160.82 947.78,4161.53 951.71,4162.24 955.64,4162.95 959.58,4163.66 963.51,4164.36 967.45,4165.07 971.38,4165.77 975.32,4166.46 979.25,4167.16 983.19,4167.85 987.12,4168.53 991.06,4169.21 995,4169.88 998.94,4170.54 1002.88,4171.2 1006.82,4171.85 1010.76,4172.49 1014.71,4173.12 1018.65,4173.74 1022.6,4174.35 1026.55,4174.95 1030.5,4175.54 1034.45,4176.12 1038.4,4176.68 1042.36,4177.23 1046.32,4177.76 1050.28,4178.29 1054.24,4178.79 1058.2,4179.29 1062.17,4179.77 1066.14,4180.23 1070.1,4180.68 1074.08,4181.12 1078.05,4181.55 1082.02,4181.96 1086,4182.36 1089.98,4182.74 1093.96,4183.11 1097.94,4183.47 1101.92,4183.82 1105.9,4184.16 1109.89,4184.48 1113.88,4184.79 1117.86,4185.09 1121.85,4185.37 1125.85,4185.65 1129.84,4185.91 1133.83,4186.16 1137.83,4186.4 1141.82,4186.63 1145.82,4186.84 1149.82,4187.05 1153.81,4187.25 1157.81,4187.43 1161.81,4187.6 1165.82,4187.77 1169.82,4187.92 1173.82,4188.06 1177.82,4188.19 1181.83,4188.32 1185.83,4188.43 1189.84,4188.53 1193.85,4188.62 1197.85,4188.71 1201.86,4188.78 1205.87,4188.85 1209.88,4188.9 1213.89,4188.95 1217.9,4188.99 1221.91,4189.02 1225.92,4189.04 1229.93,4189.05 1233.94,4189.06 1237.95,4189.05 1241.96,4189.04 1245.97,4189.02 1249.98,4188.99 1253.99,4188.96 1258,4188.91 1262.01,4188.86 1266.02,4188.81 1270.03,4188.74 1274.04,4188.67 1278.05,4188.59 1282.06,4188.51 1286.07,4188.41 1290.08,4188.32 1294.09,4188.21 1298.09,4188.1 1302.1,4187.98 1306.11,4187.86 1310.11,4187.73 1314.12,4187.6 1318.13,4187.46 1322.13,4187.31 1326.13,4187.16 1330.14,4187.01 1334.14,4186.85 1338.14,4186.68 1342.14,4186.51 1346.14,4186.33 1350.14,4186.15 1354.14,4185.97 1358.13,4185.78 1362.13,4185.59 1366.12,4185.39 1370.11,4185.19 1374.11,4184.99 1378.1,4184.78 1382.09,4184.56 1386.07,4184.34 1390.06,4184.11 1394.05,4183.87 1398.03,4183.62 1402.01,4183.37 1405.99,4183.1 1409.97,4182.83 1413.95,4182.55 1417.93,4182.25 1421.9,4181.95 1425.87,4181.63 1429.85,4181.3 1433.82,4180.96 1437.78,4180.6 1441.75,4180.23 1445.71,4179.85 1449.68,4179.45 1453.64,4179.03 1457.59,4178.6 1461.55,4178.15 1465.51,4177.69 1469.46,4177.21 1473.41,4176.7 1477.36,4176.18 1481.3,4175.64 1485.25,4175.08 1489.19,4174.5 1493.13,4173.9 1497.06,4173.28 1501,4172.64 1504.93,4171.97 1508.86,4171.28 1512.79,4170.56 1516.71,4169.83 1520.64,4169.06 1524.56,4168.27 1528.48,4167.46 1532.39,4166.62 1536.3,4165.75 1540.21,4164.86 1544.12,4163.93 1548.02,4162.98 1551.92,4162 1555.82,4160.99 1559.72,4159.95 1563.61,4158.88 1567.5,4157.77 1571.39,4156.64 1575.27,4155.47 1579.15,4154.27 1583.03,4153.04 1586.9,4151.77 1590.76,4150.46 1594.6,4149.1 1598.43,4147.7 1602.23,4146.25 1606.01,4144.74 1609.75,4143.18 1613.46,4141.55 1617.12,4139.86 1620.75,4138.1 1624.32,4136.27 1627.85,4134.37 1631.32,4132.38 1634.72,4130.32 1638.07,4128.17 1641.34,4125.92 1644.55,4123.59 1647.67,4121.16 1650.72,4118.63 1653.68,4116 1656.55,4113.27 1659.34,4110.45 1662.03,4107.54 1664.63,4104.54 1667.13,4101.47 1669.53,4098.32 1671.82,4095.09 1674.01,4091.8 1676.09,4088.44 1678.06,4085.02 1679.91,4081.55 1681.65,4078.02 1683.26,4074.45 1684.76,4070.83 1686.13,4067.17 1687.39,4063.47 1688.54,4059.74 1689.58,4055.97 1690.52,4052.16 1691.36,4048.32 1692.09,4044.46 1692.74,4040.56 1693.3,4036.64 1693.77,4032.69 1694.15,4028.72 1694.46,4024.73 1694.7,4020.73 1694.86,4016.7 1694.95,4012.67 1694.99,4008.62 1694.96,4004.55 1694.87,4000.48 1694.74,3996.41 1694.55,3992.33 1694.32,3988.24 1694.04,3984.15 1693.73,3980.07 1693.38,3975.99 1693.01,3971.91 1692.6,3967.84 1692.18,3963.78 1691.73,3959.73 1691.26,3955.68 1690.77,3951.65 1690.26,3947.63 1689.74,3943.61 1689.19,3939.6 1688.63,3935.6 1688.05,3931.61 1687.45,3927.63 1686.84,3923.66 1686.21,3919.69 1685.56,3915.73 1684.9,3911.77 1684.23,3907.82 1683.54,3903.88 1682.84,3899.94 1682.13,3896.01 1681.4,3892.09 1680.66,3888.17 1679.91,3884.25 1679.15,3880.34 1678.37,3876.43 1677.59,3872.53 1676.8,3868.63 1675.99,3864.73 1675.18,3860.84 1674.36,3856.95 1673.54,3853.07 1672.7,3849.18 1671.86,3845.3 1671.01,3841.42 1670.16,3837.54 1669.3,3833.66 1668.44,3829.79 1667.57,3825.91 1666.7,3822.04 1665.82,3818.16 1664.94,3814.29 1664.06,3810.41 1663.18,3806.54 1662.29,3802.66 1661.4,3798.78 1660.52,3794.9 1659.63,3791.02 1658.74,3787.14 1657.86,3783.26 1656.97,3779.37 1656.08,3775.49 1655.2,3771.6 1654.31,3767.71 1653.43,3763.81 1652.54,3759.92 1651.66,3756.02 1650.78,3752.13 1649.89,3748.23 1649.01,3744.33 1648.13,3740.43 1647.25,3736.53 1646.36,3732.63 1645.48,3728.72 1644.6,3724.82 1643.72,3720.91 1642.84,3717 1641.96,3713.09 1641.08,3709.19 1640.2,3705.28 1639.32,3701.37 1638.45,3697.45 1637.57,3693.54 1636.69,3689.63 1635.81,3685.72 1634.94,3681.8 1634.06,3677.89 1633.18,3673.97 1632.31,3670.06 1631.43,3666.14 1630.56,3662.23 1629.69,3658.31 1628.81,3654.4 1627.94,3650.48 1627.07,3646.56 1626.19,3642.65 1625.32,3638.73 1624.45,3634.82 1623.58,3630.9 1622.71,3626.98 1621.84,3623.07 1620.97,3619.15 1620.1,3615.24 1619.23,3611.32 1618.36,3607.41 1617.49,3603.5 1616.62,3599.58 1615.76,3595.67 1614.89,3591.76 1614.02,3587.85 1613.16,3583.94 1612.29,3580.03 1611.43,3576.12 1610.57,3572.21 1609.71,3568.3 1608.84,3564.39 1607.98,3560.48 1607.13,3556.57 1606.27,3552.66 1605.41,3548.76 1604.56,3544.85 1603.7,3540.94 1602.85,3537.03 1602,3533.12 1601.15,3529.22 1600.31,3525.31 1599.46,3521.4 1598.62,3517.5 1597.78,3513.59 1596.94,3509.68 1596.1,3505.77 1595.27,3501.86 1594.43,3497.96 1593.6,3494.05 1592.78,3490.14 1591.95,3486.23 1591.13,3482.32 1590.31,3478.41 1589.49,3474.5 1588.68,3470.59 1587.86,3466.68 1587.05,3462.77 1586.25,3458.86 1585.45,3454.94 1584.65,3451.03 1583.85,3447.12 1583.06,3443.2 1582.27,3439.29 1581.48,3435.37 1580.7,3431.46 1579.92,3427.54 1579.14,3423.62 1578.37,3419.7 1577.6,3415.78 1576.84,3411.86 1576.08,3407.94 1575.32,3404.02 1574.57,3400.09 1573.82,3396.17 1573.08,3392.24 1572.34,3388.32 1571.6,3384.39 1570.87,3380.46 1570.14,3376.53 1569.42,3372.6 1568.71,3368.66 1567.99,3364.73 1567.29,3360.79 1566.58,3356.86 1565.89,3352.92 1565.19,3348.98 1564.5,3345.04 1563.82,3341.1 1563.15,3337.15 1562.47,3333.21 1561.81,3329.26 1561.15,3325.31 1560.49,3321.36 1559.84,3317.41 1559.2,3313.46 1558.56,3309.5 1557.93,3305.55 1557.3,3301.59 1556.68,3297.63 1556.06,3293.66 1555.45,3289.7 1554.85,3285.73 1554.26,3281.76 1553.67,3277.79 1553.08,3273.82 1552.51,3269.85 1551.93,3265.87 1551.37,3261.89 1550.81,3257.91" fill="none" stroke="#000" stroke-width="15.8" stroke-linecap="round" stroke-linejoin="round"/><path d="M573.05,3257.98 573.23,3261.99 573.42,3266.01 573.63,3270.02 573.84,3274.03 574.07,3278.04 574.31,3282.05 574.56,3286.05 574.83,3290.06 575.1,3294.06 575.38,3298.06 575.68,3302.06 575.98,3306.06 576.3,3310.05 576.62,3314.05 576.96,3318.04 577.3,3322.03 577.65,3326.02 578.01,3330.01 578.38,3334 578.76,3337.99 579.14,3341.97 579.53,3345.96 579.93,3349.94 580.34,3353.92 580.76,3357.91 581.18,3361.89 581.6,3365.87 582.04,3369.85 582.48,3373.82 582.92,3377.8 583.37,3381.78 583.83,3385.75 584.29,3389.73 584.76,3393.71 585.23,3397.68 585.7,3401.65 586.18,3405.63 586.66,3409.6 587.15,3413.57 587.64,3417.55 588.13,3421.52 588.63,3425.49 589.12,3429.47 589.62,3433.44 590.13,3437.41 590.63,3441.38 591.14,3445.35 591.64,3449.33 592.15,3453.3 592.66,3457.27 593.17,3461.24 593.68,3465.22 594.19,3469.19 594.7,3473.16 595.21,3477.14 595.72,3481.11 596.22,3485.09 596.73,3489.06 597.24,3493.04 597.74,3497.02 598.24,3500.99 598.74,3504.97 599.24,3508.95 599.74,3512.93 600.23,3516.91 600.72,3520.89 601.2,3524.88 601.69,3528.86 602.17,3532.84 602.64,3536.83 603.11,3540.82 603.58,3544.8 604.04,3548.79 604.5,3552.78 604.96,3556.77 605.41,3560.76 605.86,3564.75 606.31,3568.75 606.77,3572.74 607.22,3576.73 607.67,3580.72 608.12,3584.71 608.58,3588.7 609.04,3592.7 609.5,3596.69 609.96,3600.68 610.43,3604.66 610.91,3608.65 611.39,3612.64 611.87,3616.62 612.36,3620.61 612.86,3624.59 613.37,3628.57 613.88,3632.55 614.4,3636.53 614.94,3640.5 615.48,3644.48 616.03,3648.45 616.59,3652.41 617.17,3656.38 617.75,3660.34 618.35,3664.3 618.96,3668.26 619.59,3672.21 620.23,3676.16 620.89,3680.11 621.56,3684.06 622.25,3688 622.95,3691.93 623.67,3695.87 624.41,3699.79 625.16,3703.72 625.94,3707.64 626.74,3711.56 627.55,3715.47 628.39,3719.37 629.24,3723.28 630.12,3727.17 631.02,3731.07 631.93,3734.95 632.87,3738.84 633.83,3742.71 634.81,3746.59 635.81,3750.46 636.82,3754.32 637.86,3758.18 638.92,3762.03 640,3765.88 641.1,3769.72 642.22,3773.56 643.36,3777.39 644.52,3781.22 645.7,3785.04 646.9,3788.85 648.12,3792.66 649.36,3796.47 650.62,3800.27 651.9,3804.06 653.2,3807.85 654.52,3811.64 655.86,3815.41 657.22,3819.19 658.6,3822.95 660,3826.71 661.41,3830.47 662.85,3834.22 664.31,3837.96 665.79,3841.69 667.29,3845.42 668.81,3849.14 670.35,3852.86 671.91,3856.56 673.5,3860.25 675.12,3863.93 676.76,3867.6 678.42,3871.26 680.12,3874.9 681.83,3878.53 683.58,3882.15 685.36,3885.75 687.17,3889.33 689,3892.9 690.87,3896.44 692.77,3899.97 694.7,3903.48 696.66,3906.97 698.66,3910.44 700.69,3913.89 702.76,3917.32 704.87,3920.72 707.01,3924.1 709.18,3927.45 711.4,3930.78 713.64,3934.09 715.93,3937.37 718.25,3940.62 720.6,3943.85 722.99,3947.06 725.41,3950.23 727.87,3953.39 730.36,3956.51 732.88,3959.61 735.44,3962.68 738.03,3965.73 740.65,3968.74 743.31,3971.73 746,3974.69 748.72,3977.62 751.47,3980.52 754.26,3983.4 757.07,3986.24 759.92,3989.06 762.8,3991.84 765.7,3994.6 768.64,3997.32 771.6,4000.02 774.59,4002.69 777.61,4005.33 780.66,4007.94 783.73,4010.52 786.83,4013.07 789.95,4015.59 793.1,4018.08 796.27,4020.54 799.47,4022.97 802.68,4025.37 805.92,4027.74 809.18,4030.09 812.47,4032.4 815.77,4034.69 819.09,4036.94 822.43,4039.17 825.79,4041.36 829.17,4043.53 832.56,4045.66 835.97,4047.77 839.4,4049.85 842.85,4051.9 846.31,4053.92 849.78,4055.9 853.27,4057.86 856.77,4059.79 860.28,4061.69 863.81,4063.56 867.35,4065.4 870.91,4067.2 874.48,4068.97 878.07,4070.71 881.67,4072.42 885.28,4074.09 888.91,4075.73 892.55,4077.34 896.21,4078.91 899.88,4080.44 903.56,4081.94 907.26,4083.4 910.97,4084.82 914.7,4086.21 918.44,4087.56 922.2,4088.88 925.96,4090.17 929.74,4091.43 933.53,4092.66 937.32,4093.86 941.13,4095.04 944.94,4096.21 948.76,4097.35 952.58,4098.47 956.42,4099.58 960.25,4100.66 964.1,4101.73 967.95,4102.77 971.81,4103.8 975.67,4104.8 979.54,4105.79 983.41,4106.76 987.29,4107.71 991.17,4108.64 995.06,4109.55 998.95,4110.45 1002.85,4111.34 1006.76,4112.21 1010.66,4113.07 1014.57,4113.93 1018.49,4114.77 1022.4,4115.61 1026.32,4116.44 1030.25,4117.26 1034.18,4118.08 1038.11,4118.88 1042.04,4119.67 1045.98,4120.45 1049.92,4121.2 1053.86,4121.94 1057.8,4122.66 1061.75,4123.36 1065.7,4124.04 1069.66,4124.69 1073.61,4125.32 1077.57,4125.93 1081.54,4126.52 1085.5,4127.08 1089.47,4127.63 1093.44,4128.15 1097.41,4128.65 1101.38,4129.13 1105.36,4129.59 1109.33,4130.03 1113.31,4130.44 1117.29,4130.84 1121.28,4131.21 1125.26,4131.57 1129.25,4131.9 1133.24,4132.22 1137.23,4132.51 1141.22,4132.78 1145.21,4133.03 1149.21,4133.26 1153.2,4133.48 1157.2,4133.67 1161.2,4133.84 1165.19,4133.99 1169.19,4134.12 1173.19,4134.24 1177.2,4134.33 1181.2,4134.41 1185.2,4134.46 1189.2,4134.5 1193.21,4134.51 1197.21,4134.51 1201.21,4134.49 1205.22,4134.45 1209.22,4134.39 1213.23,4134.32 1217.23,4134.22 1221.24,4134.11 1225.24,4133.98 1229.25,4133.83 1233.25,4133.66 1237.26,4133.48 1241.26,4133.27 1245.26,4133.05 1249.27,4132.81 1253.27,4132.56 1257.27,4132.28 1261.27,4131.99 1265.27,4131.68 1269.27,4131.36 1273.27,4131.01 1277.26,4130.65 1281.26,4130.28 1285.25,4129.89 1289.25,4129.48 1293.24,4129.05 1297.23,4128.61 1301.22,4128.15 1305.21,4127.67 1309.19,4127.18 1313.17,4126.66 1317.15,4126.13 1321.13,4125.56 1325.1,4124.98 1329.06,4124.36 1333.02,4123.72 1336.97,4123.05 1340.92,4122.34 1344.86,4121.6 1348.79,4120.83 1352.71,4120.01 1356.63,4119.16 1360.53,4118.26 1364.42,4117.33 1368.3,4116.34 1372.17,4115.31 1376.03,4114.24 1379.88,4113.11 1383.71,4111.93 1387.53,4110.7 1391.34,4109.41 1395.13,4108.06 1398.9,4106.66 1402.66,4105.2 1406.4,4103.67 1410.13,4102.08 1413.84,4100.42 1417.52,4098.7 1421.17,4096.91 1424.79,4095.04 1428.37,4093.1 1431.89,4091.09 1435.36,4089 1438.77,4086.83 1442.11,4084.58 1445.37,4082.25 1448.56,4079.83 1451.65,4077.32 1454.66,4074.73 1457.56,4072.04 1460.35,4069.27 1463.03,4066.39 1465.59,4063.43 1468.03,4060.36 1470.33,4057.19 1472.5,4053.93 1474.54,4050.58 1476.46,4047.14 1478.25,4043.62 1479.94,4040.02 1481.51,4036.36 1482.97,4032.64 1484.34,4028.86 1485.6,4025.04 1486.77,4021.17 1487.85,4017.26 1488.84,4013.32 1489.76,4009.35 1490.59,4005.37 1491.36,4001.37 1492.05,3997.36 1492.69,3993.35 1493.26,3989.34 1493.77,3985.33 1494.22,3981.33 1494.62,3977.32 1494.96,3973.32 1495.24,3969.31 1495.47,3965.31 1495.66,3961.31 1495.79,3957.31 1495.87,3953.31 1495.9,3949.31 1495.89,3945.32 1495.84,3941.32 1495.74,3937.33 1495.6,3933.34 1495.42,3929.35 1495.2,3925.36 1494.94,3921.37 1494.65,3917.38 1494.32,3913.4 1493.96,3909.41 1493.57,3905.43 1493.15,3901.45 1492.69,3897.47 1492.21,3893.5 1491.71,3889.52 1491.17,3885.55 1490.62,3881.58 1490.04,3877.61 1489.44,3873.64 1488.82,3869.67 1488.18,3865.71 1487.53,3861.74 1486.86,3857.78 1486.18,3853.82 1485.48,3849.86 1484.78,3845.91 1484.06,3841.95 1483.33,3838 1482.6,3834.05 1481.86,3830.1 1481.12,3826.16 1480.36,3822.21 1479.6,3818.27 1478.84,3814.33 1478.06,3810.39 1477.28,3806.46 1476.5,3802.52 1475.71,3798.59 1474.91,3794.65 1474.11,3790.72 1473.3,3786.8 1472.49,3782.87 1471.67,3778.94 1470.84,3775.02 1470.01,3771.09 1469.18,3767.17 1468.34,3763.25 1467.49,3759.33 1466.64,3755.42 1465.79,3751.5 1464.93,3747.59 1464.07,3743.67 1463.2,3739.76 1462.33,3735.85 1461.45,3731.94 1460.57,3728.03 1459.69,3724.12 1458.8,3720.21 1457.91,3716.31 1457.02,3712.4 1456.13,3708.5 1455.23,3704.59 1454.32,3700.69 1453.42,3696.79 1452.51,3692.89 1451.6,3688.98 1450.68,3685.08 1449.77,3681.18 1448.85,3677.29 1447.93,3673.39 1447.01,3669.49 1446.08,3665.59 1445.16,3661.7 1444.23,3657.8 1443.3,3653.9 1442.37,3650.01 1441.44,3646.11 1440.51,3642.22 1439.57,3638.32 1438.64,3634.43 1437.7,3630.54 1436.76,3626.64 1435.83,3622.75 1434.89,3618.86 1433.95,3614.96 1433.01,3611.07 1432.08,3607.17 1431.14,3603.28 1430.2,3599.39 1429.26,3595.49 1428.32,3591.6 1427.39,3587.71 1426.45,3583.81 1425.52,3579.92 1424.58,3576.02 1423.65,3572.13 1422.72,3568.23 1421.78,3564.34 1420.85,3560.44 1419.93,3556.54 1419,3552.65 1418.07,3548.75 1417.15,3544.85 1416.23,3540.95 1415.31,3537.05 1414.39,3533.15 1413.48,3529.25 1412.57,3525.35 1411.66,3521.45 1410.75,3517.55 1409.85,3513.64 1408.95,3509.74 1408.05,3505.83 1407.15,3501.93 1406.26,3498.02 1405.37,3494.11 1404.48,3490.21 1403.6,3486.3 1402.72,3482.39 1401.84,3478.48 1400.97,3474.57 1400.1,3470.65 1399.23,3466.74 1398.37,3462.83 1397.51,3458.91 1396.65,3455 1395.8,3451.08 1394.95,3447.16 1394.11,3443.25 1393.27,3439.33 1392.43,3435.41 1391.6,3431.49 1390.77,3427.57 1389.94,3423.64 1389.13,3419.72 1388.31,3415.8 1387.5,3411.87 1386.69,3407.95 1385.89,3404.02 1385.09,3400.09 1384.3,3396.17 1383.52,3392.24 1382.73,3388.31 1381.96,3384.37 1381.18,3380.44 1380.42,3376.51 1379.65,3372.57 1378.9,3368.64 1378.14,3364.7 1377.4,3360.77 1376.66,3356.83 1375.92,3352.89 1375.19,3348.95 1374.47,3345.01 1373.75,3341.07 1373.04,3337.12 1372.33,3333.18 1371.63,3329.23 1370.93,3325.29 1370.24,3321.34 1369.56,3317.39 1368.88,3313.44 1368.21,3309.49 1367.55,3305.54 1366.89,3301.59 1366.24,3297.64 1365.59,3293.68 1364.96,3289.73 1364.32,3285.77 1363.7,3281.81 1363.08,3277.85 1362.47,3273.89 1361.87,3269.93 1361.27,3265.97 1360.68,3262 1360.1,3258.04" fill="none" stroke="#D84A47" stroke-width="15.8" stroke-linecap="round" stroke-linejoin="round"/><path d="M678.91,3257.85 679.01,3261.89 679.11,3265.92 679.23,3269.96 679.35,3273.99 679.48,3278.02 679.62,3282.05 679.77,3286.07 679.93,3290.1 680.09,3294.12 680.26,3298.14 680.44,3302.15 680.62,3306.17 680.82,3310.18 681.02,3314.19 681.22,3318.2 681.44,3322.2 681.66,3326.21 681.89,3330.21 682.13,3334.21 682.37,3338.21 682.62,3342.21 682.88,3346.21 683.14,3350.2 683.42,3354.19 683.69,3358.19 683.98,3362.18 684.27,3366.16 684.57,3370.15 684.87,3374.14 685.19,3378.12 685.5,3382.1 685.83,3386.09 686.16,3390.07 686.5,3394.05 686.84,3398.02 687.19,3402 687.54,3405.98 687.91,3409.95 688.27,3413.93 688.65,3417.9 689.03,3421.87 689.41,3425.85 689.8,3429.82 690.2,3433.79 690.6,3437.76 691.01,3441.72 691.42,3445.69 691.84,3449.66 692.27,3453.63 692.7,3457.59 693.13,3461.56 693.58,3465.52 694.02,3469.49 694.47,3473.45 694.93,3477.42 695.39,3481.38 695.86,3485.35 696.33,3489.31 696.8,3493.27 697.29,3497.24 697.77,3501.2 698.26,3505.16 698.76,3509.13 699.26,3513.09 699.76,3517.06 700.27,3521.02 700.78,3524.98 701.3,3528.95 701.82,3532.91 702.35,3536.88 702.88,3540.84 703.42,3544.81 703.96,3548.77 704.5,3552.74 705.05,3556.71 705.6,3560.67 706.15,3564.64 706.71,3568.61 707.27,3572.58 707.84,3576.55 708.41,3580.52 708.98,3584.49 709.56,3588.47 710.14,3592.44 710.72,3596.41 711.31,3600.39 711.91,3604.36 712.5,3608.34 713.11,3612.31 713.72,3616.28 714.34,3620.26 714.96,3624.23 715.59,3628.2 716.23,3632.17 716.88,3636.14 717.54,3640.11 718.2,3644.08 718.88,3648.04 719.56,3652 720.25,3655.96 720.96,3659.92 721.68,3663.87 722.4,3667.83 723.14,3671.77 723.89,3675.72 724.66,3679.66 725.44,3683.6 726.23,3687.53 727.03,3691.46 727.85,3695.39 728.69,3699.31 729.53,3703.23 730.4,3707.14 731.28,3711.05 732.18,3714.95 733.09,3718.85 734.02,3722.74 734.97,3726.62 735.94,3730.5 736.92,3734.38 737.93,3738.24 738.95,3742.1 739.99,3745.96 741.06,3749.8 742.14,3753.64 743.24,3757.47 744.37,3761.3 745.52,3765.11 746.69,3768.92 747.88,3772.72 749.09,3776.52 750.33,3780.3 751.6,3784.07 752.88,3787.84 754.19,3791.6 755.53,3795.35 756.89,3799.08 758.28,3802.81 759.69,3806.53 761.13,3810.24 762.6,3813.94 764.1,3817.63 765.62,3821.3 767.17,3824.97 768.75,3828.62 770.36,3832.27 771.99,3835.9 773.66,3839.52 775.35,3843.13 777.07,3846.73 778.82,3850.32 780.6,3853.89 782.4,3857.45 784.23,3861 786.09,3864.54 787.98,3868.06 789.9,3871.57 791.84,3875.07 793.81,3878.55 795.81,3882.02 797.84,3885.48 799.89,3888.92 801.98,3892.35 804.09,3895.76 806.22,3899.16 808.39,3902.55 810.58,3905.92 812.8,3909.28 815.04,3912.62 817.32,3915.94 819.62,3919.25 821.95,3922.55 824.3,3925.83 826.69,3929.08 829.11,3932.31 831.56,3935.51 834.04,3938.67 836.56,3941.81 839.12,3944.9 841.72,3947.95 844.35,3950.96 847.02,3953.92 849.74,3956.83 852.5,3959.69 855.31,3962.48 858.16,3965.22 861.06,3967.9 864,3970.52 866.98,3973.09 870.01,3975.62 873.06,3978.11 876.16,3980.57 879.28,3983 882.43,3985.4 885.61,3987.79 888.82,3990.15 892.06,3992.49 895.32,3994.8 898.61,3997.09 901.92,3999.36 905.26,4001.6 908.62,4003.81 912,4005.99 915.41,4008.14 918.84,4010.26 922.29,4012.35 925.76,4014.41 929.25,4016.44 932.76,4018.43 936.3,4020.39 939.84,4022.31 943.41,4024.19 947,4026.04 950.6,4027.85 954.21,4029.62 957.85,4031.35 961.49,4033.04 965.15,4034.69 968.83,4036.29 972.52,4037.86 976.22,4039.37 979.93,4040.85 983.66,4042.27 987.39,4043.66 991.14,4045 994.9,4046.31 998.67,4047.57 1002.45,4048.79 1006.24,4049.98 1010.04,4051.13 1013.85,4052.24 1017.68,4053.32 1021.51,4054.36 1025.35,4055.38 1029.2,4056.36 1033.06,4057.3 1036.94,4058.22 1040.82,4059.12 1044.71,4059.98 1048.6,4060.82 1052.51,4061.63 1056.43,4062.42 1060.35,4063.18 1064.29,4063.92 1068.23,4064.64 1072.17,4065.34 1076.13,4066.02 1080.09,4066.68 1084.06,4067.31 1088.04,4067.93 1092.02,4068.52 1096.01,4069.09 1100,4069.63 1103.99,4070.15 1107.99,4070.65 1111.99,4071.12 1116,4071.56 1120,4071.97 1124.01,4072.36 1128.01,4072.72 1132.02,4073.05 1136.02,4073.35 1140.03,4073.62 1144.03,4073.85 1148.03,4074.06 1152.03,4074.23 1156.03,4074.37 1160.02,4074.47 1164.01,4074.54 1167.99,4074.56 1171.97,4074.54 1175.95,4074.48 1179.92,4074.37 1183.88,4074.21 1187.84,4074 1191.8,4073.74 1195.75,4073.42 1199.69,4073.04 1203.62,4072.6 1207.55,4072.1 1211.47,4071.54 1215.39,4070.9 1219.29,4070.21 1223.19,4069.43 1227.08,4068.59 1230.96,4067.67 1234.83,4066.68 1238.7,4065.62 1242.55,4064.5 1246.4,4063.32 1250.25,4062.09 1254.09,4060.82 1257.92,4059.5 1261.74,4058.15 1265.57,4056.77 1269.39,4055.37 1273.2,4053.95 1277.02,4052.52 1280.83,4051.08 1284.64,4049.64 1288.42,4048.16 1292.16,4046.62 1295.85,4045 1299.44,4043.25 1302.94,4041.35 1306.32,4039.29 1309.6,4037.09 1312.77,4034.74 1315.83,4032.26 1318.78,4029.64 1321.63,4026.91 1324.37,4024.06 1327,4021.1 1329.53,4018.04 1331.96,4014.89 1334.28,4011.64 1336.5,4008.32 1338.62,4004.92 1340.63,4001.45 1342.55,3997.92 1344.36,3994.34 1346.07,3990.71 1347.68,3987.03 1349.2,3983.33 1350.61,3979.6 1351.93,3975.84 1353.15,3972.07 1354.28,3968.28 1355.32,3964.47 1356.27,3960.64 1357.14,3956.8 1357.92,3952.94 1358.62,3949.07 1359.24,3945.18 1359.79,3941.28 1360.26,3937.37 1360.67,3933.44 1361,3929.5 1361.27,3925.55 1361.48,3921.6 1361.62,3917.63 1361.71,3913.65 1361.74,3909.67 1361.72,3905.67 1361.65,3901.67 1361.53,3897.67 1361.36,3893.65 1361.15,3889.64 1360.9,3885.62 1360.61,3881.59 1360.28,3877.56 1359.92,3873.53 1359.53,3869.5 1359.11,3865.47 1358.67,3861.44 1358.2,3857.41 1357.71,3853.38 1357.21,3849.35 1356.68,3845.32 1356.15,3841.3 1355.6,3837.28 1355.04,3833.26 1354.47,3829.25 1353.9,3825.24 1353.31,3821.24 1352.72,3817.24 1352.12,3813.25 1351.51,3809.26 1350.89,3805.27 1350.26,3801.28 1349.62,3797.3 1348.98,3793.33 1348.33,3789.35 1347.67,3785.39 1347,3781.42 1346.32,3777.46 1345.63,3773.5 1344.94,3769.54 1344.24,3765.59 1343.53,3761.64 1342.82,3757.69 1342.09,3753.75 1341.36,3749.8 1340.63,3745.87 1339.88,3741.93 1339.13,3738 1338.37,3734.07 1337.61,3730.14 1336.83,3726.21 1336.05,3722.29 1335.27,3718.37 1334.48,3714.45 1333.68,3710.54 1332.87,3706.62 1332.06,3702.71 1331.25,3698.8 1330.42,3694.89 1329.59,3690.99 1328.76,3687.09 1327.92,3683.18 1327.07,3679.28 1326.22,3675.38 1325.37,3671.49 1324.5,3667.59 1323.64,3663.7 1322.76,3659.81 1321.88,3655.92 1321,3652.03 1320.11,3648.14 1319.22,3644.25 1318.32,3640.36 1317.42,3636.48 1316.52,3632.59 1315.61,3628.71 1314.69,3624.83 1313.77,3620.95 1312.85,3617.06 1311.92,3613.18 1310.99,3609.3 1310.05,3605.43 1309.12,3601.55 1308.17,3597.67 1307.23,3593.79 1306.28,3589.91 1305.32,3586.03 1304.37,3582.16 1303.41,3578.28 1302.45,3574.4 1301.48,3570.52 1300.51,3566.65 1299.54,3562.77 1298.57,3558.89 1297.59,3555.01 1296.61,3551.13 1295.63,3547.26 1294.64,3543.38 1293.66,3539.5 1292.67,3535.61 1291.68,3531.73 1290.69,3527.85 1289.69,3523.97 1288.7,3520.09 1287.7,3516.2 1286.71,3512.32 1285.71,3508.43 1284.72,3504.55 1283.72,3500.66 1282.73,3496.78 1281.73,3492.89 1280.73,3489 1279.74,3485.11 1278.75,3481.22 1277.76,3477.33 1276.77,3473.44 1275.78,3469.55 1274.79,3465.66 1273.81,3461.77 1272.83,3457.87 1271.85,3453.98 1270.87,3450.09 1269.9,3446.19 1268.93,3442.29 1267.97,3438.4 1267,3434.5 1266.05,3430.6 1265.09,3426.7 1264.14,3422.8 1263.2,3418.9 1262.26,3415 1261.32,3411.1 1260.39,3407.19 1259.47,3403.29 1258.55,3399.39 1257.64,3395.48 1256.73,3391.57 1255.83,3387.67 1254.94,3383.76 1254.06,3379.85 1253.18,3375.94 1252.31,3372.03 1251.44,3368.12 1250.58,3364.2 1249.74,3360.29 1248.9,3356.38 1248.06,3352.46 1247.24,3348.54 1246.43,3344.63 1245.62,3340.71 1244.83,3336.79 1244.04,3332.87 1243.26,3328.95 1242.5,3325.03 1241.74,3321.1 1240.99,3317.18 1240.26,3313.25 1239.53,3309.33 1238.82,3305.4 1238.12,3301.47 1237.42,3297.54 1236.75,3293.61 1236.08,3289.68 1235.42,3285.75 1234.78,3281.81 1234.15,3277.88 1233.53,3273.94 1232.93,3270.01 1232.34,3266.07 1231.76,3262.13 1231.19,3258.19" fill="none" stroke="#8AB84C" stroke-width="15.8" stroke-linecap="round" stroke-linejoin="round"/><path d="M943.65,3293.01 947.14,3292.87 950.66,3293.24 954.17,3294.08 957.68,3295.35 961.16,3297.01 964.6,3299.02 967.99,3301.34 971.3,3303.93 974.53,3306.73 977.67,3309.72 980.68,3312.86 983.57,3316.09 986.31,3319.38 988.92,3322.73 991.39,3326.12 993.75,3329.56 996,3333.02 998.14,3336.51 1000.18,3340.02 1002.15,3343.55 1004.03,3347.1 1005.84,3350.66 1007.58,3354.23 1009.27,3357.81 1010.9,3361.4 1012.5,3365.01 1014.06,3368.62 1015.59,3372.24 1017.1,3375.86 1018.6,3379.49 1020.09,3383.12 1021.58,3386.75 1023.08,3390.39 1024.59,3394.02 1026.13,3397.66 1027.7,3401.29 1029.3,3404.92 1030.95,3408.55 1032.63,3412.17 1034.33,3415.8 1036.05,3419.42 1037.77,3423.05 1039.48,3426.69 1041.17,3430.34 1042.83,3433.99 1044.46,3437.66 1046.06,3441.34 1047.63,3445.02 1049.19,3448.71 1050.73,3452.4 1052.26,3456.1 1053.79,3459.79 1055.32,3463.48 1056.85,3467.17 1058.4,3470.85 1059.96,3474.53 1061.52,3478.2 1063.08,3481.87 1064.64,3485.55 1066.18,3489.23 1067.72,3492.91 1069.23,3496.6 1070.71,3500.31 1072.17,3504.02 1073.59,3507.75 1074.98,3511.5 1076.35,3515.26 1077.68,3519.03 1079,3522.8 1080.28,3526.59 1081.55,3530.39 1082.8,3534.2 1084.02,3538.02 1085.23,3541.84 1086.42,3545.67 1087.6,3549.5 1088.77,3553.34 1089.92,3557.19 1091.06,3561.03 1092.2,3564.88 1093.33,3568.73 1094.46,3572.59 1095.58,3576.44 1096.7,3580.29 1097.81,3584.14 1098.92,3587.99 1100.03,3591.84 1101.12,3595.7 1102.22,3599.55 1103.3,3603.41 1104.38,3607.26 1105.45,3611.12 1106.51,3614.98 1107.57,3618.84 1108.61,3622.7 1109.64,3626.57 1110.66,3630.44 1111.67,3634.31 1112.67,3638.18 1113.65,3642.05 1114.62,3645.93 1115.58,3649.81 1116.52,3653.7 1117.45,3657.59 1118.36,3661.48 1119.25,3665.38 1120.12,3669.28 1120.98,3673.18 1121.82,3677.09 1122.64,3681 1123.44,3684.92 1124.22,3688.84 1124.98,3692.77 1125.72,3696.7 1126.44,3700.64 1127.13,3704.59 1127.8,3708.54 1128.45,3712.5 1129.07,3716.46 1129.67,3720.43 1130.24,3724.4 1130.78,3728.38 1131.3,3732.37 1131.79,3736.37 1132.25,3740.37 1132.68,3744.39 1133.09,3748.4 1133.46,3752.43 1133.79,3756.46 1134.07,3760.5 1134.31,3764.53 1134.48,3768.57 1134.59,3772.6 1134.62,3776.64 1134.57,3780.66 1134.44,3784.68 1134.21,3788.69 1133.89,3792.7 1133.45,3796.68 1132.9,3800.66 1132.23,3804.62 1131.43,3808.56 1130.5,3812.49 1129.43,3816.39 1128.21,3820.27 1126.84,3824.12 1125.32,3827.91 1123.66,3831.65 1121.84,3835.31 1119.88,3838.87 1117.76,3842.34 1115.5,3845.68 1113.09,3848.89 1110.53,3851.96 1107.82,3854.87 1104.97,3857.6 1101.96,3860.15 1098.81,3862.49 1095.5,3864.62 1092.05,3866.52 1088.47,3868.2 1084.77,3869.64 1080.96,3870.85 1077.07,3871.83 1073.12,3872.58 1069.11,3873.11 1065.07,3873.41 1061.01,3873.49 1056.96,3873.34 1052.92,3872.97 1048.92,3872.37 1044.97,3871.55 1041.09,3870.52 1037.29,3869.26 1033.59,3867.78 1029.99,3866.1 1026.47,3864.25 1023.03,3862.23 1019.66,3860.07 1016.35,3857.8 1013.1,3855.42 1009.89,3852.96 1006.72,3850.43 1003.59,3847.85 1000.49,3845.22 997.44,3842.53 994.42,3839.79 991.45,3837.01 988.52,3834.18 985.64,3831.3 982.81,3828.38 980.02,3825.41 977.29,3822.4 974.6,3819.35 971.97,3816.27 969.39,3813.14 966.87,3809.98 964.41,3806.79 962,3803.56 959.65,3800.31 957.37,3797.02 955.14,3793.7 952.96,3790.35 950.85,3786.98 948.79,3783.57 946.78,3780.14 944.82,3776.68 942.92,3773.19 941.07,3769.68 939.27,3766.15 937.53,3762.59 935.83,3759 934.17,3755.39 932.57,3751.76 931.01,3748.11 929.5,3744.44 928.03,3740.75 926.61,3737.04 925.23,3733.3 923.89,3729.55 922.59,3725.79 921.34,3722 920.12,3718.2 918.94,3714.38 917.8,3710.55 916.7,3706.7 915.63,3702.84 914.6,3698.97 913.6,3695.08 912.63,3691.18 911.7,3687.27 910.8,3683.35 909.93,3679.42 909.09,3675.48 908.28,3671.53 907.5,3667.57 906.74,3663.61 906.02,3659.64 905.31,3655.66 904.64,3651.68 903.98,3647.69 903.35,3643.7 902.74,3639.7 902.16,3635.7 901.59,3631.7 901.04,3627.7 900.51,3623.7 900,3619.69 899.51,3615.69 899.03,3611.69 898.57,3607.69 898.13,3603.69 897.7,3599.68 897.29,3595.68 896.89,3591.68 896.52,3587.68 896.15,3583.68 895.81,3579.69 895.48,3575.69 895.17,3571.69 894.87,3567.69 894.59,3563.69 894.32,3559.69 894.07,3555.7 893.84,3551.7 893.62,3547.7 893.42,3543.71 893.24,3539.71 893.07,3535.71 892.91,3531.72 892.77,3527.72 892.65,3523.73 892.54,3519.73 892.45,3515.73 892.37,3511.74 892.31,3507.74 892.26,3503.75 892.23,3499.75 892.21,3495.76 892.21,3491.76 892.23,3487.76 892.25,3483.77 892.3,3479.77 892.35,3475.78 892.43,3471.78 892.52,3467.78 892.62,3463.79 892.73,3459.79 892.87,3455.79 893.01,3451.8 893.17,3447.8 893.35,3443.8 893.53,3439.81 893.74,3435.81 893.96,3431.81 894.19,3427.81 894.43,3423.81 894.69,3419.81 894.97,3415.81 895.25,3411.81 895.56,3407.81 895.87,3403.81 896.2,3399.81 896.55,3395.81 896.92,3391.81 897.32,3387.81 897.75,3383.81 898.22,3379.82 898.74,3375.82 899.3,3371.84 899.92,3367.86 900.6,3363.88 901.35,3359.91 902.16,3355.94 903.05,3351.99 904.02,3348.04 905.08,3344.1 906.22,3340.17 907.47,3336.25 908.81,3332.34 910.26,3328.45 911.83,3324.57 913.53,3320.76 915.37,3317.04 917.38,3313.44 919.56,3310.01 921.95,3306.77 924.54,3303.76 927.35,3301.03 930.35,3298.6 933.51,3296.54 936.8,3294.89 940.19,3293.7 943.65,3293.01Z" fill="none" stroke="#8462A4" stroke-width="15.8" stroke-linecap="round" stroke-linejoin="round"/><path d="M976.87,3488.59 980.37,3488.58 983.93,3489.37 987.49,3490.84 991,3492.91 994.41,3495.48 997.67,3498.44 1000.75,3501.7 1003.58,3505.16 1006.11,3508.71 1008.34,3512.29 1010.3,3515.87 1012.05,3519.47 1013.65,3523.07 1015.16,3526.68 1016.63,3530.28 1018.12,3533.87 1019.68,3537.46 1021.29,3541.04 1022.96,3544.61 1024.67,3548.18 1026.42,3551.75 1028.19,3555.33 1029.99,3558.9 1031.79,3562.48 1033.6,3566.07 1035.41,3569.66 1037.2,3573.26 1038.96,3576.88 1040.7,3580.51 1042.4,3584.16 1044.05,3587.82 1045.65,3591.51 1047.18,3595.22 1048.64,3598.95 1050.01,3602.7 1051.31,3606.49 1052.53,3610.29 1053.69,3614.11 1054.79,3617.95 1055.86,3621.8 1056.89,3625.65 1057.9,3629.51 1058.9,3633.37 1059.91,3637.22 1060.93,3641.06 1061.97,3644.89 1063.04,3648.7 1064.16,3652.49 1065.34,3656.25 1066.57,3659.99 1067.82,3663.73 1069.09,3667.48 1070.33,3671.25 1071.53,3675.07 1072.66,3678.94 1073.72,3682.87 1074.7,3686.83 1075.6,3690.84 1076.41,3694.88 1077.12,3698.94 1077.72,3703.03 1078.22,3707.13 1078.61,3711.24 1078.87,3715.35 1079.01,3719.46 1079.02,3723.56 1078.9,3727.64 1078.63,3731.7 1078.21,3735.73 1077.63,3739.73 1076.9,3743.68 1076.01,3747.59 1074.94,3751.45 1073.69,3755.25 1072.26,3758.99 1070.64,3762.65 1068.83,3766.24 1066.82,3769.74 1064.6,3773.16 1062.17,3776.45 1059.51,3779.53 1056.62,3782.3 1053.49,3784.69 1050.1,3786.58 1046.44,3787.9 1042.54,3788.59 1038.46,3788.7 1034.32,3788.31 1030.22,3787.49 1026.24,3786.32 1022.45,3784.84 1018.85,3783.09 1015.43,3781.08 1012.17,3778.84 1009.06,3776.38 1006.11,3773.73 1003.29,3770.9 1000.6,3767.92 998.04,3764.8 995.58,3761.57 993.22,3758.26 990.96,3754.87 988.79,3751.43 986.68,3747.95 984.66,3744.44 982.71,3740.89 980.83,3737.31 979.02,3733.7 977.28,3730.07 975.6,3726.4 974,3722.71 972.45,3718.99 970.97,3715.25 969.55,3711.48 968.19,3707.7 966.88,3703.89 965.63,3700.07 964.44,3696.23 963.29,3692.37 962.2,3688.5 961.16,3684.62 960.16,3680.73 959.21,3676.82 958.3,3672.91 957.44,3668.99 956.61,3665.06 955.83,3661.13 955.08,3657.2 954.37,3653.27 953.69,3649.33 953.05,3645.39 952.44,3641.46 951.86,3637.52 951.32,3633.58 950.81,3629.64 950.34,3625.7 949.9,3621.75 949.49,3617.8 949.12,3613.84 948.79,3609.88 948.49,3605.92 948.23,3601.95 948,3597.97 947.81,3593.98 947.66,3589.99 947.54,3585.99 947.46,3581.99 947.41,3577.97 947.4,3573.94 947.43,3569.91 947.5,3565.86 947.6,3561.8 947.74,3557.73 947.92,3553.65 948.14,3549.56 948.4,3545.45 948.7,3541.34 949.06,3537.22 949.51,3533.12 950.07,3529.05 950.78,3525.02 951.64,3521.05 952.69,3517.14 953.95,3513.33 955.44,3509.61 957.19,3506 959.23,3502.52 961.57,3499.19 964.2,3496.08 967.08,3493.33 970.18,3491.08 973.45,3489.46 976.87,3488.59Z" fill="none" stroke="#00AAC8" stroke-width="15.8" stroke-linecap="round" stroke-linejoin="round"/></g>
<line x1="338.3" y1="3258.8" x2="2224" y2="3258.8" stroke="#000" stroke-width="4.7" stroke-linecap="butt"/>
<line x1="2222.5" y1="3258.8" x2="2222.5" y2="4325.5" stroke="#000" stroke-width="3" stroke-linecap="butt"/>
<line x1="1914.8" y1="3426.1" x2="2040" y2="3426.1" stroke="#000" stroke-width="16.5" stroke-linecap="round"/>
<line x1="1914.4" y1="3523.9" x2="2040.5" y2="3523.9" stroke="#D84A47" stroke-width="15.8" stroke-linecap="round"/>
<line x1="1914.4" y1="3628.3" x2="2040.5" y2="3628.3" stroke="#8AB84C" stroke-width="14.8" stroke-linecap="round"/>
<line x1="1914.4" y1="3728.6" x2="2040.5" y2="3728.6" stroke="#8462A4" stroke-width="14.8" stroke-linecap="round"/>
<line x1="1914.4" y1="3829.6" x2="2040.5" y2="3829.6" stroke="#00AAC8" stroke-width="14.8" stroke-linecap="round"/>
<g fill="#000">
<text transform="matrix(0.6458 0 0 0.6761 261.72 1136.32)" font-family='"Liberation Sans", Arial, sans-serif' font-size="100">0</text>
<text transform="matrix(0.6458 0 0 0.6761 190.04 922.78)" font-family='"Liberation Sans", Arial, sans-serif' font-size="100">200</text>
<text transform="matrix(0.6458 0 0 0.6761 190.04 709.24)" font-family='"Liberation Sans", Arial, sans-serif' font-size="100">400</text>
<text transform="matrix(0.6458 0 0 0.6761 190.04 495.7)" font-family='"Liberation Sans", Arial, sans-serif' font-size="100">600</text>
<text transform="matrix(0.6458 0 0 0.6761 190.04 282.16)" font-family='"Liberation Sans", Arial, sans-serif' font-size="100">800</text>
<text transform="matrix(0.6458 0 0 0.6761 153.88 68.62)" font-family='"Liberation Sans", Arial, sans-serif' font-size="100">1000</text>
<text transform="matrix(0.6425 0 0 0.6718 334.41 1232.23)" font-family='"Liberation Sans", Arial, sans-serif' font-size="100">0</text>
<text transform="matrix(0.6425 0 0 0.6718 548.65 1232.23)" font-family='"Liberation Sans", Arial, sans-serif' font-size="100">0.02</text>
<text transform="matrix(0.6425 0 0 0.6718 806.58 1232.23)" font-family='"Liberation Sans", Arial, sans-serif' font-size="100">0.04</text>
<text transform="matrix(0.6425 0 0 0.6718 1065.79 1232.23)" font-family='"Liberation Sans", Arial, sans-serif' font-size="100">0.06</text>
<text transform="matrix(0.6425 0 0 0.6718 1324.36 1232.23)" font-family='"Liberation Sans", Arial, sans-serif' font-size="100">0.08</text>
<text transform="matrix(0.6425 0 0 0.6718 1600.92 1232.23)" font-family='"Liberation Sans", Arial, sans-serif' font-size="100">0.1</text>
<text transform="matrix(0.6425 0 0 0.6718 1841.5 1232.23)" font-family='"Liberation Sans", Arial, sans-serif' font-size="100">0.12</text>
<text transform="matrix(0.6425 0 0 0.6718 2099.43 1232.23)" font-family='"Liberation Sans", Arial, sans-serif' font-size="100">0.14</text>
<text transform="matrix(0.8259 0 0 0.6939 74.2 585.61)" font-family='"Liberation Sans", Arial, sans-serif' font-size="100" font-style="italic">t</text>
<text transform="matrix(0.6736 0 0 0.7890 1232.23 1298.8)" font-family='"Liberation Sans", Arial, sans-serif' font-size="100" font-style="italic">k</text>
<text transform="matrix(0.8269 0 0 0.8589 1096.69 1425.96)" font-family='"Liberation Serif", "Times New Roman", serif' font-size="100">(<tspan font-weight="bold">a</tspan>)</text>
<text transform="matrix(0.4977 0 0 0.4750 1713.02 108.9)" font-family='"Liberation Sans", Arial, sans-serif' font-size="100"><tspan>10</tspan><tspan font-size="60%" dy="-0.703em">3</tspan><tspan font-style="italic" dy="0.422em" dx="0.04em">Da/Ra</tspan><tspan font-size="60%" dy="-0.703em">2</tspan><tspan dy="0.422em">=0</tspan></text>
<text transform="matrix(0.4882 0 0 0.4746 1933.79 176.9)" font-family='"Liberation Sans", Arial, sans-serif' font-size="100">1.5</text>
<text transform="matrix(0.4882 0 0 0.4746 1933.79 249.1)" font-family='"Liberation Sans", Arial, sans-serif' font-size="100">2.5</text>
<text transform="matrix(0.4882 0 0 0.4746 1933.79 319.8)" font-family='"Liberation Sans", Arial, sans-serif' font-size="100">2.6</text>
<text transform="matrix(0.4882 0 0 0.4746 1905.96 388.4)" font-family='"Liberation Sans", Arial, sans-serif' font-size="100">2.64</text>
<text transform="matrix(0.4882 0 0 0.4746 1906.94 460.6)" font-family='"Liberation Sans", Arial, sans-serif' font-size="100">2.69</text>
<text transform="matrix(0.6066 0 0 0.5944 182.06 2744.31)" font-family='"Liberation Sans", Arial, sans-serif' font-size="100">0</text>
<text transform="matrix(0.6066 0 0 0.5944 114.72 2557.41)" font-family='"Liberation Sans", Arial, sans-serif' font-size="100">200</text>
<text transform="matrix(0.6066 0 0 0.5944 114.72 2370.51)" font-family='"Liberation Sans", Arial, sans-serif' font-size="100">400</text>
<text transform="matrix(0.6066 0 0 0.5944 114.72 2183.61)" font-family='"Liberation Sans", Arial, sans-serif' font-size="100">600</text>
<text transform="matrix(0.6066 0 0 0.5944 114.72 1996.71)" font-family='"Liberation Sans", Arial, sans-serif' font-size="100">800</text>
<text transform="matrix(0.6066 0 0 0.5944 80.75 1809.81)" font-family='"Liberation Sans", Arial, sans-serif' font-size="100">1000</text>
<text transform="matrix(0.6066 0 0 0.5944 80.75 1622.91)" font-family='"Liberation Sans", Arial, sans-serif' font-size="100">1200</text>
<text transform="matrix(0.6154 0 0 0.5873 258.77 2846.61)" font-family='"Liberation Sans", Arial, sans-serif' font-size="100">0</text>
<text transform="matrix(0.6154 0 0 0.5873 497.87 2846.61)" font-family='"Liberation Sans", Arial, sans-serif' font-size="100">0.02</text>
<text transform="matrix(0.6154 0 0 0.5873 778.83 2846.61)" font-family='"Liberation Sans", Arial, sans-serif' font-size="100">0.04</text>
<text transform="matrix(0.6154 0 0 0.5873 1061.01 2846.61)" font-family='"Liberation Sans", Arial, sans-serif' font-size="100">0.06</text>
<text transform="matrix(0.6154 0 0 0.5873 1342.58 2846.61)" font-family='"Liberation Sans", Arial, sans-serif' font-size="100">0.08</text>
<text transform="matrix(0.6154 0 0 0.5873 1641.39 2846.61)" font-family='"Liberation Sans", Arial, sans-serif' font-size="100">0.1</text>
<text transform="matrix(0.6154 0 0 0.5873 1905.72 2846.61)" font-family='"Liberation Sans", Arial, sans-serif' font-size="100">0.12</text>
<text transform="matrix(0.6154 0 0 0.5873 2186.68 2846.61)" font-family='"Liberation Sans", Arial, sans-serif' font-size="100">0.14</text>
<text transform="matrix(1.0808 0 0 1.3368 25.48 2212.96)" font-family='"Liberation Serif", "Times New Roman", serif' font-size="100" font-style="italic">t</text>
<text transform="matrix(1.0189 0 0 1.0315 1263.98 2961.6)" font-family='"Liberation Sans", Arial, sans-serif' font-size="100" font-style="italic">k</text>
<text transform="matrix(0.8535 0 0 0.8867 1093.39 3080.08)" font-family='"Liberation Serif", "Times New Roman", serif' font-size="100">(<tspan font-weight="bold">b</tspan>)</text>
<text transform="matrix(0.6404 0 0 0.5810 1569.22 1697.9)" font-family='"Liberation Sans", Arial, sans-serif' font-size="100"><tspan>10</tspan><tspan font-size="60%" dy="-0.703em">3</tspan><tspan font-style="italic" dy="0.422em" dx="0.04em">Da/Ra</tspan><tspan font-size="60%" dy="-0.703em">2</tspan><tspan dy="0.422em">= 0</tspan></text>
<text transform="matrix(0.6404 0 0 0.5810 1921.74 1785)" font-family='"Liberation Sans", Arial, sans-serif' font-size="100">1</text>
<text transform="matrix(0.6404 0 0 0.5810 1873.54 1873.9)" font-family='"Liberation Sans", Arial, sans-serif' font-size="100">1.5</text>
<text transform="matrix(0.6404 0 0 0.5810 1923.34 1957.2)" font-family='"Liberation Sans", Arial, sans-serif' font-size="100">2</text>
<text transform="matrix(0.6404 0 0 0.5810 1842.22 2047.2)" font-family='"Liberation Sans", Arial, sans-serif' font-size="100">2.09</text>
<text transform="matrix(0.6288 0 0 0.6732 239.5 4348.73)" font-family='"Liberation Sans", Arial, sans-serif' font-size="100">0</text>
<text transform="matrix(0.6288 0 0 0.6732 169.71 4184.63)" font-family='"Liberation Sans", Arial, sans-serif' font-size="100">200</text>
<text transform="matrix(0.6288 0 0 0.6732 169.71 4020.53)" font-family='"Liberation Sans", Arial, sans-serif' font-size="100">400</text>
<text transform="matrix(0.6288 0 0 0.6732 169.71 3856.43)" font-family='"Liberation Sans", Arial, sans-serif' font-size="100">600</text>
<text transform="matrix(0.6288 0 0 0.6732 169.71 3692.33)" font-family='"Liberation Sans", Arial, sans-serif' font-size="100">800</text>
<text transform="matrix(0.6288 0 0 0.6732 134.5 3528.23)" font-family='"Liberation Sans", Arial, sans-serif' font-size="100">1000</text>
<text transform="matrix(0.6288 0 0 0.6732 134.5 3364.13)" font-family='"Liberation Sans", Arial, sans-serif' font-size="100">1200</text>
<text transform="matrix(0.6330 0 0 0.6056 323.78 4453.29)" font-family='"Liberation Sans", Arial, sans-serif' font-size="100">0</text>
<text transform="matrix(0.6330 0 0 0.6056 548.81 4453.29)" font-family='"Liberation Sans", Arial, sans-serif' font-size="100">0.02</text>
<text transform="matrix(0.6330 0 0 0.6056 816.89 4453.29)" font-family='"Liberation Sans", Arial, sans-serif' font-size="100">0.04</text>
<text transform="matrix(0.6330 0 0 0.6056 1086.23 4453.29)" font-family='"Liberation Sans", Arial, sans-serif' font-size="100">0.06</text>
<text transform="matrix(0.6330 0 0 0.6056 1354.94 4453.29)" font-family='"Liberation Sans", Arial, sans-serif' font-size="100">0.08</text>
<text transform="matrix(0.6330 0 0 0.6056 1641.37 4453.29)" font-family='"Liberation Sans", Arial, sans-serif' font-size="100">0.1</text>
<text transform="matrix(0.6330 0 0 0.6056 1892.36 4453.29)" font-family='"Liberation Sans", Arial, sans-serif' font-size="100">0.12</text>
<text transform="matrix(0.6330 0 0 0.6056 2160.44 4453.29)" font-family='"Liberation Sans", Arial, sans-serif' font-size="100">0.14</text>
<text transform="matrix(1.5115 0 0 1.3579 45.85 3852.24)" font-family='"Liberation Serif", "Times New Roman", serif' font-size="100" font-style="italic">t</text>
<text transform="matrix(1.0774 0 0 1.2260 1292.62 4593.3)" font-family='"Liberation Sans", Arial, sans-serif' font-size="100" font-style="italic">k</text>
<text transform="matrix(0.8165 0 0 0.8711 1099.93 4722.01)" font-family='"Liberation Serif", "Times New Roman", serif' font-size="100">(<tspan font-weight="bold">c</tspan>)</text>
<text transform="matrix(0.7112 0 0 0.6905 1869.32 3355.7)" font-family='"Liberation Sans", Arial, sans-serif' font-size="100"><tspan>10</tspan><tspan font-size="60%" dy="-0.703em">3</tspan><tspan font-style="italic" dy="0.422em" dx="0.04em">Da/Ra</tspan><tspan font-size="60%" dy="-0.703em">2</tspan></text>
<text transform="matrix(0.6957 0 0 0.6479 2070.72 3449.1)" font-family='"Liberation Sans", Arial, sans-serif' font-size="100">0</text>
<text transform="matrix(0.6957 0 0 0.6479 2068.63 3549.3)" font-family='"Liberation Sans", Arial, sans-serif' font-size="100">1</text>
<text transform="matrix(0.6957 0 0 0.6479 2068.63 3649.5)" font-family='"Liberation Sans", Arial, sans-serif' font-size="100">1.5</text>
<text transform="matrix(0.6957 0 0 0.6479 2070.02 3749.7)" font-family='"Liberation Sans", Arial, sans-serif' font-size="100">2</text>
<text transform="matrix(0.6957 0 0 0.6479 2070.02 3849.9)" font-family='"Liberation Sans", Arial, sans-serif' font-size="100">2.05</text>
</g></svg></body></html>
